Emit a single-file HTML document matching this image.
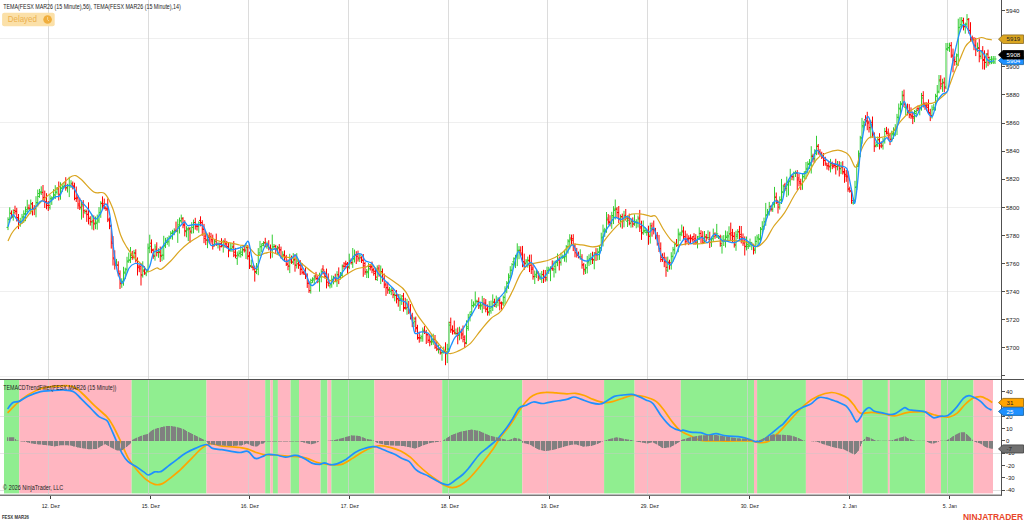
<!DOCTYPE html>
<html><head><meta charset="utf-8"><style>
html,body{margin:0;padding:0;background:#fff;width:1024px;height:522px;overflow:hidden}
svg{display:block}
text{font-family:"Liberation Sans",sans-serif}
</style></head><body>
<svg width="1024" height="522" viewBox="0 0 1024 522">
<rect x="0" y="0" width="1024" height="522" fill="#ffffff"/>
<rect x="4.0" y="379.8" width="15.3" height="113.6" fill="#90EE90"/>
<rect x="19.3" y="379.8" width="112.3" height="113.6" fill="#FFB6C1"/>
<rect x="131.6" y="379.8" width="74.9" height="113.6" fill="#90EE90"/>
<rect x="206.5" y="379.8" width="58.7" height="113.6" fill="#FFB6C1"/>
<rect x="265.2" y="379.8" width="5.1" height="113.6" fill="#90EE90"/>
<rect x="270.3" y="379.8" width="2.6" height="113.6" fill="#FFB6C1"/>
<rect x="272.9" y="379.8" width="5.0" height="113.6" fill="#90EE90"/>
<rect x="277.9" y="379.8" width="12.7" height="113.6" fill="#FFB6C1"/>
<rect x="290.6" y="379.8" width="8.4" height="113.6" fill="#90EE90"/>
<rect x="299.0" y="379.8" width="21.6" height="113.6" fill="#FFB6C1"/>
<rect x="320.6" y="379.8" width="6.9" height="113.6" fill="#90EE90"/>
<rect x="327.5" y="379.8" width="3.8" height="113.6" fill="#FFB6C1"/>
<rect x="331.3" y="379.8" width="43.1" height="113.6" fill="#90EE90"/>
<rect x="374.4" y="379.8" width="67.8" height="113.6" fill="#FFB6C1"/>
<rect x="442.2" y="379.8" width="80.1" height="113.6" fill="#90EE90"/>
<rect x="522.3" y="379.8" width="81.8" height="113.6" fill="#FFB6C1"/>
<rect x="604.1" y="379.8" width="30.5" height="113.6" fill="#90EE90"/>
<rect x="634.6" y="379.8" width="46.2" height="113.6" fill="#FFB6C1"/>
<rect x="680.8" y="379.8" width="73.2" height="113.6" fill="#90EE90"/>
<rect x="754.0" y="379.8" width="3.1" height="113.6" fill="#FFB6C1"/>
<rect x="757.1" y="379.8" width="48.8" height="113.6" fill="#90EE90"/>
<rect x="805.9" y="379.8" width="56.6" height="113.6" fill="#FFB6C1"/>
<rect x="862.5" y="379.8" width="25.4" height="113.6" fill="#90EE90"/>
<rect x="887.9" y="379.8" width="1.8" height="113.6" fill="#FFB6C1"/>
<rect x="889.7" y="379.8" width="35.5" height="113.6" fill="#90EE90"/>
<rect x="925.2" y="379.8" width="15.8" height="113.6" fill="#FFB6C1"/>
<rect x="941.0" y="379.8" width="32.5" height="113.6" fill="#90EE90"/>
<rect x="973.5" y="379.8" width="19.5" height="113.6" fill="#FFB6C1"/>
<line x1="0" y1="38.5" x2="1001" y2="38.5" stroke="#efefef" stroke-width="1"/>
<line x1="0" y1="122.5" x2="1001" y2="122.5" stroke="#efefef" stroke-width="1"/>
<line x1="0" y1="207.5" x2="1001" y2="207.5" stroke="#efefef" stroke-width="1"/>
<line x1="0" y1="291.5" x2="1001" y2="291.5" stroke="#efefef" stroke-width="1"/>
<line x1="0" y1="376.5" x2="1001" y2="376.5" stroke="#efefef" stroke-width="1"/>
<line x1="0" y1="416.5" x2="1001" y2="416.5" stroke="#c8c8c8" stroke-opacity="0.45" stroke-width="1"/>
<line x1="0" y1="453.5" x2="1001" y2="453.5" stroke="#c8c8c8" stroke-opacity="0.45" stroke-width="1"/>
<line x1="48.5" y1="0" x2="48.5" y2="494" stroke="#d0d0d0" stroke-opacity="0.75" stroke-width="1"/>
<line x1="148.5" y1="0" x2="148.5" y2="494" stroke="#d0d0d0" stroke-opacity="0.75" stroke-width="1"/>
<line x1="248.5" y1="0" x2="248.5" y2="494" stroke="#d0d0d0" stroke-opacity="0.75" stroke-width="1"/>
<line x1="348.5" y1="0" x2="348.5" y2="494" stroke="#d0d0d0" stroke-opacity="0.75" stroke-width="1"/>
<line x1="448.5" y1="0" x2="448.5" y2="494" stroke="#d0d0d0" stroke-opacity="0.75" stroke-width="1"/>
<line x1="547.5" y1="0" x2="547.5" y2="494" stroke="#d0d0d0" stroke-opacity="0.75" stroke-width="1"/>
<line x1="647.5" y1="0" x2="647.5" y2="494" stroke="#d0d0d0" stroke-opacity="0.75" stroke-width="1"/>
<line x1="747.5" y1="0" x2="747.5" y2="494" stroke="#d0d0d0" stroke-opacity="0.75" stroke-width="1"/>
<line x1="847.5" y1="0" x2="847.5" y2="494" stroke="#d0d0d0" stroke-opacity="0.75" stroke-width="1"/>
<line x1="947.5" y1="0" x2="947.5" y2="494" stroke="#d0d0d0" stroke-opacity="0.75" stroke-width="1"/>
<path d="M8.00,217.3V230.1M6.50,227.4h1.5M8.00,219.6h1.5M9.75,207.3V222.5M8.25,219.4h1.5M9.75,213.1h1.5M13.25,209.3V220.7M11.75,217.3h1.5M13.25,212.7h1.5M20.25,217.8V226.8M18.75,222.5h1.5M20.25,221.6h1.5M22.00,213.9V223.9M20.50,221.5h1.5M22.00,217.8h1.5M23.75,210.3V222.8M22.25,216.6h1.5M23.75,213.8h1.5M25.50,206.5V221.2M24.00,214.1h1.5M25.50,209.6h1.5M27.25,199.8V213.9M25.75,211.2h1.5M27.25,208.9h1.5M30.75,199.5V214.3M29.25,209.2h1.5M30.75,203.6h1.5M36.00,196.2V217.3M34.50,208.1h1.5M36.00,202.6h1.5M37.75,189.5V206.6M36.25,202.9h1.5M37.75,196.5h1.5M39.50,188.9V197.8M38.00,193.5h1.5M39.50,191.8h1.5M41.25,186.3V195.0M39.75,192.9h1.5M41.25,192.0h1.5M50.00,194.7V209.6M48.50,207.6h1.5M50.00,198.3h1.5M51.75,196.3V204.9M50.25,199.1h1.5M51.75,198.3h1.5M53.50,189.2V199.4M52.00,197.8h1.5M53.50,194.7h1.5M55.25,185.2V199.0M53.75,195.8h1.5M55.25,192.3h1.5M57.00,187.0V194.7M55.50,192.1h1.5M57.00,189.0h1.5M60.50,182.3V199.7M59.00,195.0h1.5M60.50,188.1h1.5M62.25,184.5V191.9M60.75,188.2h1.5M62.25,186.6h1.5M64.00,182.0V188.5M62.50,187.0h1.5M64.00,185.7h1.5M67.50,183.8V192.5M66.00,187.5h1.5M67.50,185.4h1.5M69.25,176.8V197.1M67.75,185.8h1.5M69.25,185.3h1.5M71.00,180.2V188.0M69.50,185.6h1.5M71.00,183.3h1.5M81.50,200.3V219.6M80.00,207.9h1.5M81.50,205.9h1.5M85.00,209.2V214.2M83.50,212.0h1.5M85.00,211.3h1.5M92.00,214.7V229.5M90.50,222.2h1.5M92.00,222.0h1.5M95.50,216.5V229.2M94.00,224.1h1.5M95.50,223.6h1.5M97.25,214.6V229.7M95.75,222.2h1.5M97.25,219.0h1.5M99.00,207.1V223.1M97.50,220.9h1.5M99.00,212.4h1.5M100.75,201.2V217.8M99.25,214.0h1.5M100.75,203.1h1.5M116.50,258.9V266.9M115.00,265.3h1.5M116.50,265.1h1.5M121.75,278.3V287.8M120.25,282.2h1.5M121.75,281.9h1.5M123.50,266.8V285.7M122.00,281.2h1.5M123.50,272.1h1.5M125.25,267.7V279.0M123.75,273.1h1.5M125.25,269.8h1.5M127.00,256.8V272.7M125.50,269.1h1.5M127.00,261.8h1.5M128.75,252.6V262.8M127.25,260.8h1.5M128.75,259.9h1.5M130.50,247.0V263.1M129.00,260.3h1.5M130.50,257.5h1.5M134.00,249.9V259.5M132.50,256.2h1.5M134.00,252.5h1.5M142.75,261.3V277.6M141.25,275.7h1.5M142.75,270.0h1.5M146.25,269.6V276.2M144.75,273.9h1.5M146.25,271.2h1.5M148.00,243.5V272.7M146.50,270.8h1.5M148.00,248.4h1.5M149.75,234.7V253.2M148.25,247.4h1.5M149.75,246.3h1.5M155.00,244.2V260.7M153.50,256.5h1.5M155.00,247.0h1.5M158.50,248.4V257.8M157.00,252.6h1.5M158.50,251.4h1.5M162.00,246.6V261.2M160.50,256.6h1.5M162.00,255.0h1.5M163.75,235.8V259.7M162.25,255.3h1.5M163.75,245.5h1.5M165.50,237.8V248.1M164.00,246.1h1.5M165.50,242.1h1.5M167.25,237.1V244.8M165.75,242.5h1.5M167.25,241.0h1.5M169.00,235.5V246.6M167.50,241.9h1.5M169.00,237.1h1.5M170.75,231.2V239.2M169.25,237.1h1.5M170.75,233.2h1.5M172.50,229.8V239.7M171.00,233.4h1.5M172.50,231.8h1.5M174.25,228.3V235.2M172.75,233.0h1.5M174.25,231.4h1.5M177.75,219.2V242.9M176.25,231.4h1.5M177.75,224.9h1.5M179.50,217.5V233.5M178.00,226.7h1.5M179.50,220.5h1.5M181.25,214.6V223.3M179.75,221.1h1.5M181.25,218.0h1.5M186.50,226.2V237.3M185.00,231.7h1.5M186.50,228.8h1.5M188.25,226.8V241.1M186.75,229.9h1.5M188.25,229.1h1.5M191.75,222.1V233.8M190.25,232.3h1.5M191.75,227.3h1.5M193.50,219.6V233.3M192.00,227.5h1.5M193.50,222.5h1.5M198.75,221.3V232.8M197.25,225.7h1.5M198.75,222.8h1.5M207.50,233.6V248.2M206.00,240.0h1.5M207.50,237.5h1.5M214.50,239.9V246.4M213.00,244.8h1.5M214.50,241.7h1.5M218.00,242.2V248.5M216.50,244.1h1.5M218.00,244.0h1.5M223.25,239.8V252.6M221.75,245.9h1.5M223.25,241.8h1.5M230.25,243.1V251.7M228.75,249.8h1.5M230.25,248.8h1.5M232.00,243.7V252.0M230.50,248.9h1.5M232.00,247.2h1.5M237.25,251.5V264.9M235.75,258.6h1.5M237.25,254.2h1.5M239.00,250.1V257.4M237.50,255.3h1.5M239.00,253.5h1.5M240.75,246.1V257.6M239.25,252.2h1.5M240.75,252.1h1.5M242.50,247.4V256.2M241.00,254.6h1.5M242.50,249.8h1.5M246.00,243.1V259.0M244.50,250.9h1.5M246.00,247.6h1.5M251.25,259.6V268.1M249.75,266.5h1.5M251.25,266.2h1.5M256.50,263.0V274.1M255.00,272.4h1.5M256.50,266.9h1.5M258.25,248.1V275.2M256.75,269.1h1.5M258.25,254.8h1.5M260.00,240.9V256.1M258.50,252.9h1.5M260.00,246.9h1.5M261.75,243.4V252.1M260.25,246.5h1.5M261.75,245.3h1.5M263.50,241.2V246.3M262.00,243.6h1.5M263.50,243.0h1.5M267.00,241.6V248.8M265.50,246.9h1.5M267.00,246.1h1.5M272.25,234.6V257.7M270.75,249.1h1.5M272.25,246.7h1.5M274.00,244.0V250.0M272.50,246.9h1.5M274.00,246.1h1.5M277.50,245.8V253.8M276.00,248.4h1.5M277.50,247.3h1.5M282.75,251.2V260.1M281.25,256.5h1.5M282.75,254.4h1.5M289.75,253.8V273.1M288.25,266.1h1.5M289.75,262.0h1.5M293.25,253.1V264.7M291.75,262.4h1.5M293.25,260.3h1.5M296.75,253.2V268.5M295.25,265.4h1.5M296.75,261.1h1.5M310.75,278.7V293.6M309.25,290.7h1.5M310.75,282.8h1.5M312.50,277.3V282.9M311.00,280.4h1.5M312.50,278.9h1.5M314.25,275.3V283.8M312.75,280.0h1.5M314.25,277.8h1.5M319.50,272.7V291.7M318.00,281.2h1.5M319.50,276.8h1.5M321.25,269.4V282.3M319.75,276.9h1.5M321.25,271.5h1.5M330.00,283.2V288.4M328.50,285.9h1.5M330.00,284.8h1.5M331.75,275.4V287.7M330.25,283.8h1.5M331.75,279.3h1.5M333.50,275.8V284.3M332.00,279.4h1.5M333.50,277.9h1.5M337.00,271.2V286.9M335.50,281.7h1.5M337.00,274.4h1.5M340.50,272.0V279.6M339.00,277.5h1.5M340.50,274.3h1.5M342.25,264.5V278.0M340.75,275.5h1.5M342.25,266.1h1.5M349.25,253.7V269.2M347.75,267.5h1.5M349.25,261.6h1.5M352.75,248.0V267.9M351.25,263.9h1.5M352.75,258.5h1.5M354.50,249.6V262.5M353.00,259.1h1.5M354.50,255.1h1.5M359.75,254.1V262.0M358.25,259.0h1.5M359.75,255.9h1.5M366.75,268.9V278.0M365.25,272.5h1.5M366.75,271.4h1.5M368.50,263.1V278.1M367.00,272.7h1.5M368.50,268.8h1.5M377.25,265.4V281.0M375.75,279.4h1.5M377.25,269.7h1.5M380.75,265.5V284.1M379.25,275.5h1.5M380.75,271.6h1.5M389.50,286.9V293.9M388.00,290.4h1.5M389.50,290.0h1.5M391.25,287.5V295.2M389.75,291.7h1.5M391.25,290.4h1.5M394.75,292.3V301.3M393.25,295.3h1.5M394.75,295.2h1.5M400.00,294.0V311.0M398.50,300.7h1.5M400.00,298.8h1.5M401.75,295.1V304.9M400.25,300.3h1.5M401.75,299.1h1.5M407.00,298.9V314.7M405.50,308.8h1.5M407.00,307.0h1.5M414.00,316.8V327.1M412.50,322.8h1.5M414.00,321.7h1.5M421.00,334.6V341.7M419.50,337.6h1.5M421.00,336.7h1.5M422.75,327.5V341.7M421.25,338.1h1.5M422.75,330.1h1.5M431.50,335.3V345.2M430.00,341.3h1.5M431.50,341.2h1.5M433.25,333.7V344.8M431.75,342.0h1.5M433.25,339.1h1.5M438.50,344.6V353.5M437.00,349.1h1.5M438.50,348.9h1.5M442.00,350.0V360.7M440.50,352.6h1.5M442.00,352.1h1.5M443.75,346.6V353.7M442.25,352.1h1.5M443.75,351.8h1.5M447.25,343.8V363.1M445.75,351.6h1.5M447.25,349.0h1.5M449.00,321.6V351.8M447.50,349.2h1.5M449.00,325.1h1.5M456.00,328.6V335.2M454.50,333.6h1.5M456.00,333.5h1.5M459.50,326.7V340.3M458.00,332.9h1.5M459.50,331.4h1.5M466.50,320.3V344.3M465.00,342.5h1.5M466.50,326.8h1.5M468.25,313.9V330.7M466.75,328.4h1.5M468.25,317.7h1.5M470.00,311.7V321.4M468.50,317.3h1.5M470.00,314.5h1.5M471.75,299.3V316.2M470.25,311.8h1.5M471.75,305.6h1.5M473.50,301.4V307.6M472.00,305.7h1.5M473.50,305.0h1.5M475.25,291.5V306.3M473.75,304.1h1.5M475.25,301.0h1.5M477.00,299.7V303.8M475.50,301.7h1.5M477.00,301.7h1.5M480.50,302.2V309.8M479.00,306.9h1.5M480.50,305.9h1.5M482.25,295.9V313.1M480.75,305.0h1.5M482.25,303.3h1.5M489.25,301.1V315.6M487.75,311.7h1.5M489.25,308.3h1.5M491.00,300.6V313.7M489.50,310.9h1.5M491.00,306.6h1.5M492.75,294.4V311.0M491.25,307.1h1.5M492.75,302.1h1.5M496.25,295.6V307.8M494.75,306.1h1.5M496.25,302.5h1.5M498.00,297.2V306.3M496.50,301.8h1.5M498.00,299.8h1.5M503.25,295.5V305.9M501.75,302.6h1.5M503.25,297.2h1.5M505.00,286.3V304.5M503.50,297.6h1.5M505.00,291.0h1.5M506.75,281.1V293.2M505.25,288.8h1.5M506.75,283.4h1.5M508.50,273.4V288.9M507.00,282.9h1.5M508.50,276.0h1.5M510.25,266.2V279.8M508.75,277.7h1.5M510.25,270.3h1.5M512.00,263.0V274.5M510.50,270.2h1.5M512.00,264.6h1.5M513.75,257.4V266.6M512.25,261.8h1.5M513.75,259.0h1.5M515.50,254.8V268.1M514.00,258.3h1.5M515.50,256.8h1.5M517.25,243.3V266.1M515.75,255.5h1.5M517.25,250.2h1.5M519.00,246.1V259.2M517.50,250.6h1.5M519.00,250.0h1.5M526.00,259.2V265.2M524.50,263.5h1.5M526.00,261.8h1.5M527.75,256.6V267.6M526.25,260.2h1.5M527.75,260.1h1.5M534.75,270.5V284.0M533.25,276.8h1.5M534.75,276.0h1.5M536.50,269.0V278.1M535.00,274.3h1.5M536.50,272.6h1.5M540.00,272.8V280.0M538.50,278.2h1.5M540.00,277.2h1.5M541.75,271.0V283.0M540.25,279.0h1.5M541.75,274.7h1.5M547.00,266.7V281.3M545.50,279.2h1.5M547.00,270.8h1.5M548.75,266.8V274.0M547.25,270.4h1.5M548.75,269.3h1.5M550.50,266.3V281.2M549.00,269.3h1.5M550.50,268.6h1.5M554.00,260.7V277.5M552.50,270.1h1.5M554.00,266.3h1.5M555.75,260.6V273.3M554.25,269.2h1.5M555.75,262.6h1.5M557.50,253.5V266.2M556.00,261.3h1.5M557.50,259.2h1.5M561.00,252.7V265.6M559.50,261.9h1.5M561.00,257.3h1.5M562.75,254.5V259.1M561.25,257.0h1.5M562.75,256.7h1.5M564.50,249.8V261.7M563.00,257.6h1.5M564.50,255.0h1.5M566.25,245.1V262.4M564.75,256.7h1.5M566.25,247.0h1.5M568.00,239.2V253.6M566.50,246.6h1.5M568.00,240.9h1.5M569.75,234.2V249.3M568.25,241.7h1.5M569.75,239.8h1.5M580.25,249.3V259.7M578.75,257.2h1.5M580.25,256.9h1.5M585.50,264.2V274.0M584.00,270.9h1.5M585.50,267.7h1.5M587.25,255.9V273.4M585.75,267.9h1.5M587.25,262.8h1.5M589.00,254.3V266.1M587.50,261.5h1.5M589.00,258.6h1.5M590.75,252.9V264.9M589.25,259.9h1.5M590.75,259.6h1.5M594.25,252.0V269.3M592.75,260.1h1.5M594.25,254.9h1.5M597.75,248.2V260.3M596.25,253.9h1.5M597.75,251.8h1.5M599.50,245.5V259.9M598.00,252.5h1.5M599.50,248.3h1.5M601.25,232.7V251.0M599.75,247.6h1.5M601.25,237.9h1.5M603.00,224.6V246.4M601.50,237.1h1.5M603.00,230.1h1.5M604.75,227.8V236.9M603.25,231.7h1.5M604.75,230.0h1.5M606.50,212.0V232.8M605.00,230.2h1.5M606.50,218.1h1.5M611.75,211.8V228.8M610.25,223.2h1.5M611.75,215.5h1.5M613.50,206.2V224.1M612.00,217.0h1.5M613.50,209.1h1.5M615.25,199.5V219.5M613.75,210.4h1.5M615.25,208.9h1.5M620.50,214.5V227.4M619.00,219.7h1.5M620.50,217.0h1.5M624.00,210.8V227.3M622.50,221.0h1.5M624.00,216.8h1.5M627.50,215.5V227.0M626.00,221.2h1.5M627.50,220.2h1.5M631.00,218.4V227.7M629.50,223.1h1.5M631.00,221.7h1.5M634.50,214.3V225.8M633.00,224.2h1.5M634.50,221.8h1.5M636.25,219.3V228.3M634.75,222.7h1.5M636.25,222.2h1.5M638.00,215.6V227.5M636.50,223.0h1.5M638.00,219.1h1.5M643.25,220.5V234.9M641.75,232.7h1.5M643.25,231.3h1.5M645.00,227.1V233.3M643.50,230.6h1.5M645.00,230.3h1.5M646.75,229.6V235.7M645.25,232.4h1.5M646.75,232.4h1.5M650.25,222.7V243.6M648.75,235.1h1.5M650.25,228.2h1.5M667.75,256.6V272.0M666.25,270.2h1.5M667.75,262.4h1.5M671.25,252.2V269.6M669.75,264.9h1.5M671.25,256.6h1.5M673.00,246.9V261.7M671.50,256.2h1.5M673.00,249.4h1.5M674.75,241.7V254.4M673.25,250.1h1.5M674.75,244.6h1.5M678.25,228.6V252.2M676.75,245.1h1.5M678.25,233.9h1.5M680.00,231.7V241.1M678.50,234.8h1.5M680.00,234.7h1.5M681.75,224.6V236.2M680.25,233.1h1.5M681.75,232.0h1.5M697.50,235.9V248.4M696.00,243.2h1.5M697.50,239.1h1.5M699.25,227.3V240.1M697.75,236.9h1.5M699.25,233.4h1.5M704.50,231.0V242.8M703.00,240.8h1.5M704.50,236.8h1.5M708.00,230.3V239.5M706.50,237.8h1.5M708.00,237.6h1.5M711.50,236.9V246.9M710.00,242.6h1.5M711.50,238.9h1.5M713.25,228.6V241.7M711.75,238.2h1.5M713.25,236.3h1.5M716.75,223.9V238.0M715.25,234.3h1.5M716.75,233.9h1.5M718.50,235.1V239.1M717.00,237.0h1.5M718.50,236.7h1.5M722.00,235.5V253.6M720.50,245.6h1.5M722.00,240.8h1.5M723.75,235.1V246.0M722.25,240.8h1.5M723.75,239.9h1.5M725.50,230.5V247.5M724.00,240.6h1.5M725.50,236.2h1.5M727.25,231.3V241.9M725.75,237.5h1.5M727.25,235.6h1.5M729.00,226.3V240.7M727.50,236.9h1.5M729.00,234.1h1.5M736.00,230.7V250.8M734.50,245.3h1.5M736.00,236.3h1.5M737.75,229.2V239.2M736.25,234.8h1.5M737.75,231.8h1.5M746.50,236.5V250.4M745.00,246.7h1.5M746.50,244.4h1.5M748.25,242.2V249.0M746.75,246.3h1.5M748.25,246.3h1.5M750.00,238.6V247.2M748.50,245.1h1.5M750.00,242.6h1.5M751.75,241.9V250.1M750.25,244.6h1.5M751.75,244.5h1.5M755.25,236.3V253.6M753.75,249.0h1.5M755.25,241.3h1.5M757.00,234.7V245.3M755.50,241.5h1.5M757.00,237.2h1.5M758.75,234.0V244.1M757.25,238.9h1.5M758.75,238.7h1.5M760.50,227.0V242.0M759.00,239.5h1.5M760.50,229.2h1.5M762.25,221.2V234.0M760.75,229.1h1.5M762.25,226.9h1.5M764.00,217.6V229.8M762.50,226.3h1.5M764.00,221.9h1.5M765.75,202.9V225.8M764.25,221.9h1.5M765.75,215.7h1.5M767.50,208.9V217.4M766.00,214.7h1.5M767.50,213.1h1.5M769.25,201.9V215.5M767.75,211.8h1.5M769.25,209.5h1.5M772.75,202.1V211.9M771.25,209.8h1.5M772.75,204.7h1.5M774.50,186.9V207.7M773.00,203.8h1.5M774.50,197.3h1.5M779.75,196.4V209.6M778.25,204.8h1.5M779.75,199.8h1.5M781.50,178.9V204.0M780.00,200.0h1.5M781.50,191.9h1.5M783.25,184.8V197.3M781.75,192.3h1.5M783.25,186.4h1.5M786.75,176.6V197.1M785.25,186.8h1.5M786.75,184.7h1.5M788.50,179.9V195.5M787.00,185.0h1.5M788.50,181.7h1.5M790.25,168.8V185.8M788.75,180.8h1.5M790.25,175.7h1.5M793.75,171.6V180.5M792.25,176.9h1.5M793.75,173.2h1.5M795.50,170.6V177.0M794.00,173.1h1.5M795.50,172.6h1.5M802.50,173.4V189.8M801.00,184.5h1.5M802.50,176.9h1.5M804.25,171.4V179.2M802.75,176.4h1.5M804.25,173.1h1.5M806.00,162.0V179.2M804.50,171.7h1.5M806.00,168.3h1.5M807.75,161.3V173.5M806.25,169.5h1.5M807.75,164.5h1.5M809.50,159.1V168.9M808.00,163.6h1.5M809.50,162.8h1.5M811.25,146.2V173.5M809.75,165.1h1.5M811.25,155.6h1.5M814.75,149.2V162.9M813.25,158.9h1.5M814.75,150.8h1.5M816.50,135.8V155.2M815.00,153.6h1.5M816.50,145.9h1.5M830.50,158.9V172.4M829.00,167.0h1.5M830.50,165.0h1.5M837.50,161.0V170.4M836.00,166.6h1.5M837.50,166.1h1.5M841.00,161.9V174.1M839.50,168.9h1.5M841.00,166.9h1.5M853.25,197.7V204.7M851.75,202.9h1.5M853.25,200.9h1.5M855.00,180.8V202.2M853.50,200.1h1.5M855.00,187.5h1.5M856.75,164.4V190.0M855.25,186.8h1.5M856.75,166.4h1.5M858.50,150.4V167.1M857.00,165.0h1.5M858.50,153.8h1.5M860.25,135.8V157.2M858.75,153.8h1.5M860.25,137.7h1.5M862.00,117.9V143.7M860.50,138.1h1.5M862.00,125.7h1.5M863.75,120.7V130.7M862.25,126.9h1.5M863.75,122.3h1.5M870.75,120.1V138.3M869.25,128.9h1.5M870.75,124.4h1.5M876.00,141.7V147.4M874.50,145.6h1.5M876.00,144.6h1.5M877.75,136.5V147.0M876.25,145.2h1.5M877.75,140.0h1.5M883.00,138.0V149.6M881.50,145.3h1.5M883.00,140.8h1.5M884.75,127.9V143.6M883.25,140.1h1.5M884.75,131.5h1.5M891.75,130.7V142.1M890.25,139.2h1.5M891.75,133.6h1.5M893.50,127.3V139.0M892.00,134.8h1.5M893.50,129.5h1.5M895.25,124.2V136.2M893.75,130.3h1.5M895.25,128.5h1.5M897.00,113.9V135.0M895.50,127.8h1.5M897.00,117.2h1.5M898.75,103.5V121.9M897.25,117.6h1.5M898.75,108.2h1.5M900.50,101.1V115.0M899.00,109.0h1.5M900.50,103.4h1.5M902.25,90.8V106.3M900.75,104.5h1.5M902.25,95.9h1.5M905.75,104.2V115.3M904.25,107.6h1.5M905.75,107.5h1.5M914.50,110.0V122.1M913.00,116.5h1.5M914.50,113.4h1.5M916.25,108.8V117.3M914.75,111.5h1.5M916.25,110.5h1.5M919.75,105.4V115.3M918.25,108.8h1.5M919.75,107.4h1.5M921.50,92.9V110.7M920.00,107.4h1.5M921.50,98.0h1.5M932.00,105.3V118.5M930.50,115.4h1.5M932.00,109.8h1.5M933.75,103.9V110.0M932.25,107.9h1.5M933.75,107.8h1.5M935.50,93.8V110.6M934.00,109.0h1.5M935.50,96.5h1.5M937.25,85.0V100.6M935.75,95.9h1.5M937.25,92.3h1.5M939.00,75.0V93.3M937.50,91.3h1.5M939.00,81.0h1.5M942.50,78.7V91.9M941.00,86.2h1.5M942.50,82.2h1.5M946.00,43.0V89.3M944.50,86.8h1.5M946.00,48.8h1.5M947.75,42.9V51.0M946.25,49.4h1.5M947.75,47.9h1.5M949.50,42.7V51.9M948.00,47.5h1.5M949.50,45.8h1.5M956.50,53.5V65.2M955.00,61.5h1.5M956.50,56.0h1.5M958.25,18.7V65.9M956.75,54.8h1.5M958.25,27.6h1.5M960.00,17.2V32.3M958.50,27.3h1.5M960.00,24.4h1.5M961.75,17.1V27.7M960.25,26.1h1.5M961.75,21.8h1.5M965.25,22.6V33.7M963.75,26.7h1.5M965.25,24.7h1.5M967.00,14.1V27.1M965.50,23.9h1.5M967.00,19.1h1.5M977.50,42.5V51.9M976.00,49.2h1.5M977.50,47.5h1.5M981.00,50.3V59.3M979.50,56.6h1.5M981.00,51.8h1.5M986.25,53.1V67.7M984.75,62.5h1.5M986.25,54.7h1.5M989.75,56.6V64.6M988.25,62.6h1.5M989.75,59.6h1.5M991.50,56.1V64.1M990.00,62.1h1.5M991.50,59.1h1.5M993.25,56.0V64.0M991.75,62.0h1.5M993.25,59.0h1.5M995.00,56.0V64.0M993.50,62.0h1.5M995.00,59.0h1.5" stroke="#32CD32" stroke-width="1" fill="none"/>
<path d="M11.50,210.4V218.5M10.00,213.4h1.5M11.50,216.3h1.5M15.00,205.7V214.6M13.50,210.6h1.5M15.00,211.3h1.5M16.75,207.8V221.5M15.25,211.3h1.5M16.75,217.5h1.5M18.50,214.0V229.1M17.00,218.0h1.5M18.50,221.0h1.5M29.00,204.5V209.9M27.50,207.9h1.5M29.00,208.2h1.5M32.50,202.0V215.5M31.00,204.0h1.5M32.50,209.0h1.5M34.25,205.1V215.1M32.75,208.3h1.5M34.25,208.8h1.5M43.00,185.0V201.2M41.50,192.6h1.5M43.00,197.4h1.5M44.75,190.6V208.0M43.25,198.0h1.5M44.75,201.6h1.5M46.50,193.2V209.3M45.00,202.2h1.5M46.50,205.4h1.5M48.25,201.0V211.0M46.75,203.2h1.5M48.25,205.6h1.5M58.75,181.5V200.5M57.25,187.8h1.5M58.75,194.2h1.5M65.75,177.2V190.7M64.25,186.3h1.5M65.75,188.0h1.5M72.75,181.5V189.4M71.25,184.0h1.5M72.75,185.9h1.5M74.50,182.7V200.3M73.00,186.3h1.5M74.50,198.4h1.5M76.25,186.5V202.0M74.75,198.3h1.5M76.25,198.7h1.5M78.00,195.5V209.1M76.50,197.3h1.5M78.00,204.0h1.5M79.75,197.8V210.0M78.25,205.8h1.5M79.75,207.2h1.5M83.25,200.1V217.8M81.75,204.2h1.5M83.25,210.6h1.5M86.75,209.6V221.9M85.25,211.5h1.5M86.75,214.6h1.5M88.50,202.3V224.4M87.00,214.2h1.5M88.50,218.5h1.5M90.25,216.2V225.6M88.75,218.2h1.5M90.25,221.5h1.5M93.75,215.4V230.3M92.25,220.8h1.5M93.75,223.2h1.5M102.50,196.4V209.2M101.00,203.6h1.5M102.50,203.9h1.5M104.25,198.6V209.3M102.75,205.6h1.5M104.25,207.1h1.5M106.00,206.4V211.0M104.50,208.3h1.5M106.00,209.0h1.5M107.75,198.5V222.1M106.25,208.7h1.5M107.75,219.1h1.5M109.50,217.4V229.2M108.00,220.1h1.5M109.50,225.4h1.5M111.25,224.6V248.6M109.75,226.4h1.5M111.25,242.0h1.5M113.00,236.1V265.5M111.50,243.3h1.5M113.00,257.9h1.5M114.75,250.3V269.6M113.25,258.9h1.5M114.75,264.0h1.5M118.25,261.3V276.3M116.75,265.1h1.5M118.25,273.9h1.5M120.00,270.4V289.0M118.50,273.9h1.5M120.00,283.7h1.5M132.25,250.9V259.8M130.75,255.2h1.5M132.25,257.3h1.5M135.75,249.3V262.5M134.25,253.4h1.5M135.75,259.8h1.5M137.50,257.4V275.5M136.00,260.6h1.5M137.50,266.1h1.5M139.25,265.0V272.2M137.75,267.7h1.5M139.25,268.9h1.5M141.00,263.5V285.5M139.50,266.8h1.5M141.00,274.8h1.5M144.50,266.2V274.8M143.00,271.1h1.5M144.50,272.9h1.5M151.50,239.4V253.2M150.00,243.2h1.5M151.50,249.8h1.5M153.25,248.6V258.8M151.75,250.3h1.5M153.25,255.3h1.5M156.75,242.3V256.4M155.25,249.1h1.5M156.75,252.4h1.5M160.25,246.6V262.0M158.75,252.6h1.5M160.25,255.4h1.5M176.00,221.6V232.2M174.50,230.3h1.5M176.00,230.5h1.5M183.00,217.2V228.2M181.50,218.8h1.5M183.00,224.4h1.5M184.75,220.2V236.4M183.25,225.6h1.5M184.75,230.8h1.5M190.00,227.0V242.6M188.50,228.8h1.5M190.00,231.2h1.5M195.25,217.8V229.6M193.75,222.5h1.5M195.25,226.1h1.5M197.00,223.7V230.6M195.50,226.2h1.5M197.00,226.5h1.5M200.50,216.3V226.3M199.00,220.4h1.5M200.50,222.7h1.5M202.25,220.2V235.8M200.75,222.6h1.5M202.25,228.9h1.5M204.00,223.9V243.2M202.50,229.5h1.5M204.00,238.4h1.5M205.75,231.7V245.1M204.25,236.2h1.5M205.75,240.1h1.5M209.25,232.3V243.3M207.75,236.2h1.5M209.25,236.5h1.5M211.00,232.9V243.8M209.50,236.8h1.5M211.00,239.6h1.5M212.75,234.6V249.6M211.25,241.0h1.5M212.75,246.1h1.5M216.25,233.6V246.0M214.75,239.8h1.5M216.25,244.4h1.5M219.75,242.6V250.7M218.25,244.4h1.5M219.75,246.7h1.5M221.50,238.2V247.3M220.00,243.4h1.5M221.50,245.7h1.5M225.00,238.2V247.8M223.50,241.4h1.5M225.00,244.0h1.5M226.75,240.9V248.2M225.25,243.0h1.5M226.75,246.5h1.5M228.50,242.6V257.3M227.00,246.9h1.5M228.50,250.7h1.5M233.75,241.1V257.1M232.25,246.8h1.5M233.75,255.1h1.5M235.50,247.9V258.2M234.00,252.2h1.5M235.50,255.8h1.5M244.25,245.3V252.5M242.75,249.8h1.5M244.25,250.0h1.5M247.75,245.1V259.6M246.25,247.6h1.5M247.75,256.5h1.5M249.50,251.6V269.0M248.00,255.7h1.5M249.50,265.7h1.5M253.00,265.5V270.5M251.50,267.2h1.5M253.00,267.8h1.5M254.75,265.7V281.6M253.25,269.2h1.5M254.75,271.5h1.5M265.25,237.8V247.1M263.75,242.7h1.5M265.25,245.0h1.5M268.75,240.2V250.4M267.25,245.2h1.5M268.75,247.5h1.5M270.50,244.5V258.6M269.00,248.1h1.5M270.50,249.1h1.5M275.75,244.8V253.9M274.25,246.5h1.5M275.75,249.5h1.5M279.25,244.1V253.6M277.75,248.1h1.5M279.25,249.6h1.5M281.00,246.6V258.5M279.50,250.0h1.5M281.00,256.6h1.5M284.50,250.4V261.6M283.00,255.3h1.5M284.50,257.6h1.5M286.25,254.9V266.0M284.75,257.0h1.5M286.25,263.9h1.5M288.00,259.4V270.3M286.50,264.3h1.5M288.00,266.1h1.5M291.50,255.6V263.9M290.00,259.9h1.5M291.50,261.9h1.5M295.00,254.2V271.7M293.50,259.6h1.5M295.00,265.0h1.5M298.50,260.3V268.8M297.00,263.8h1.5M298.50,264.8h1.5M300.25,260.1V275.1M298.75,265.4h1.5M300.25,269.1h1.5M302.00,263.0V274.5M300.50,269.4h1.5M302.00,272.2h1.5M303.75,270.8V274.8M302.25,272.8h1.5M303.75,273.0h1.5M305.50,267.4V279.0M304.00,274.2h1.5M305.50,276.1h1.5M307.25,273.4V287.9M305.75,275.2h1.5M307.25,283.5h1.5M309.00,281.3V292.9M307.50,283.0h1.5M309.00,290.6h1.5M316.00,271.9V280.2M314.50,276.0h1.5M316.00,278.6h1.5M317.75,275.7V283.2M316.25,278.4h1.5M317.75,279.2h1.5M323.00,265.2V274.6M321.50,269.0h1.5M323.00,270.0h1.5M324.75,270.9V278.4M323.25,273.2h1.5M324.75,276.0h1.5M326.50,268.6V288.4M325.00,276.4h1.5M326.50,282.2h1.5M328.25,273.4V286.3M326.75,278.0h1.5M328.25,283.4h1.5M335.25,273.7V282.1M333.75,277.8h1.5M335.25,280.0h1.5M338.75,267.4V284.1M337.25,274.9h1.5M338.75,276.5h1.5M344.00,262.1V269.3M342.50,266.2h1.5M344.00,266.4h1.5M345.75,260.7V268.4M344.25,263.8h1.5M345.75,264.4h1.5M347.50,262.0V274.2M346.00,263.9h1.5M347.50,266.7h1.5M351.00,258.5V264.3M349.50,260.8h1.5M351.00,262.5h1.5M356.25,251.2V264.0M354.75,254.7h1.5M356.25,256.6h1.5M358.00,250.6V261.6M356.50,254.7h1.5M358.00,258.0h1.5M361.50,256.3V263.0M360.00,257.8h1.5M361.50,260.1h1.5M363.25,254.0V276.8M361.75,260.4h1.5M363.25,265.9h1.5M365.00,261.8V274.8M363.50,263.5h1.5M365.00,271.7h1.5M370.25,263.9V270.5M368.75,266.4h1.5M370.25,267.3h1.5M372.00,261.6V273.2M370.50,266.5h1.5M372.00,270.2h1.5M373.75,267.8V275.7M372.25,269.4h1.5M373.75,271.3h1.5M375.50,268.9V280.2M374.00,273.4h1.5M375.50,277.1h1.5M379.00,264.8V276.7M377.50,268.1h1.5M379.00,275.1h1.5M382.50,268.5V281.8M381.00,271.8h1.5M382.50,278.6h1.5M384.25,273.5V288.1M382.75,278.3h1.5M384.25,285.1h1.5M386.00,282.2V295.9M384.50,284.1h1.5M386.00,287.8h1.5M387.75,281.8V293.8M386.25,287.6h1.5M387.75,289.3h1.5M393.00,288.0V298.2M391.50,290.5h1.5M393.00,294.5h1.5M396.50,290.1V303.4M395.00,295.4h1.5M396.50,299.0h1.5M398.25,294.1V306.7M396.75,298.6h1.5M398.25,300.2h1.5M403.50,292.9V311.7M402.00,296.0h1.5M403.50,308.3h1.5M405.25,297.8V309.6M403.75,307.5h1.5M405.25,307.8h1.5M408.75,300.9V314.1M407.25,307.2h1.5M408.75,312.2h1.5M410.50,304.1V319.5M409.00,310.1h1.5M410.50,315.2h1.5M412.25,312.8V327.1M410.75,316.2h1.5M412.25,323.1h1.5M415.75,316.6V332.1M414.25,318.8h1.5M415.75,328.7h1.5M417.50,324.8V339.7M416.00,327.5h1.5M417.50,338.1h1.5M419.25,331.7V342.7M417.75,337.5h1.5M419.25,338.2h1.5M424.50,326.1V334.0M423.00,331.3h1.5M424.50,332.1h1.5M426.25,329.9V344.0M424.75,332.7h1.5M426.25,334.5h1.5M428.00,333.3V343.0M426.50,334.9h1.5M428.00,340.5h1.5M429.75,334.6V346.3M428.25,339.9h1.5M429.75,342.0h1.5M435.00,335.0V348.9M433.50,339.3h1.5M435.00,347.2h1.5M436.75,341.3V351.1M435.25,345.1h1.5M436.75,349.0h1.5M440.25,347.0V354.6M438.75,349.6h1.5M440.25,353.0h1.5M445.50,342.3V365.2M444.00,351.6h1.5M445.50,353.7h1.5M450.75,317.6V332.9M449.25,322.4h1.5M450.75,330.0h1.5M452.50,325.4V334.6M451.00,329.3h1.5M452.50,331.3h1.5M454.25,320.6V334.3M452.75,330.7h1.5M454.25,332.7h1.5M457.75,327.4V344.3M456.25,333.6h1.5M457.75,335.2h1.5M461.25,328.6V339.2M459.75,332.4h1.5M461.25,335.0h1.5M463.00,325.5V342.3M461.50,333.9h1.5M463.00,337.1h1.5M464.75,335.3V347.7M463.25,339.4h1.5M464.75,343.4h1.5M478.75,297.4V309.0M477.25,301.7h1.5M478.75,305.3h1.5M484.00,298.0V309.2M482.50,304.0h1.5M484.00,304.6h1.5M485.75,299.1V312.3M484.25,303.1h1.5M485.75,309.1h1.5M487.50,304.5V315.6M486.00,309.2h1.5M487.50,312.7h1.5M494.50,298.7V306.8M493.00,302.2h1.5M494.50,304.5h1.5M499.75,297.9V310.4M498.25,300.6h1.5M499.75,303.0h1.5M501.50,301.5V309.6M500.00,303.1h1.5M501.50,303.9h1.5M520.75,246.3V256.0M519.25,250.7h1.5M520.75,253.1h1.5M522.50,245.9V267.2M521.00,254.8h1.5M522.50,261.7h1.5M524.25,253.6V269.9M522.75,262.0h1.5M524.25,263.0h1.5M529.50,254.7V272.1M528.00,260.7h1.5M529.50,265.3h1.5M531.25,254.5V274.0M529.75,263.0h1.5M531.25,269.4h1.5M533.00,264.4V279.7M531.50,268.0h1.5M533.00,276.6h1.5M538.25,271.3V281.1M536.75,273.0h1.5M538.25,277.0h1.5M543.50,269.8V283.0M542.00,274.4h1.5M543.50,277.3h1.5M545.25,270.0V281.7M543.75,277.5h1.5M545.25,277.7h1.5M552.25,260.4V270.7M550.75,268.6h1.5M552.25,268.8h1.5M559.25,256.5V270.5M557.75,260.2h1.5M559.25,262.7h1.5M571.50,234.6V245.3M570.00,238.1h1.5M571.50,240.2h1.5M573.25,234.2V251.1M571.75,238.7h1.5M573.25,246.6h1.5M575.00,243.4V257.3M573.50,246.0h1.5M575.00,252.8h1.5M576.75,247.9V257.6M575.25,250.6h1.5M576.75,254.3h1.5M578.50,251.6V258.4M577.00,255.4h1.5M578.50,256.6h1.5M582.00,254.2V268.7M580.50,258.7h1.5M582.00,265.0h1.5M583.75,262.9V274.8M582.25,264.8h1.5M583.75,269.3h1.5M592.50,251.7V264.0M591.00,258.9h1.5M592.50,259.7h1.5M596.00,248.1V261.0M594.50,253.1h1.5M596.00,254.9h1.5M608.25,214.1V224.8M606.75,219.9h1.5M608.25,221.6h1.5M610.00,215.2V226.4M608.50,222.5h1.5M610.00,223.3h1.5M617.00,207.1V217.8M615.50,209.2h1.5M617.00,212.5h1.5M618.75,206.0V223.2M617.25,212.6h1.5M618.75,218.9h1.5M622.25,213.6V228.7M620.75,216.5h1.5M622.25,220.5h1.5M625.75,209.0V220.6M624.25,215.3h1.5M625.75,218.1h1.5M629.25,213.6V225.4M627.75,218.2h1.5M629.25,223.3h1.5M632.75,217.4V227.4M631.25,220.9h1.5M632.75,223.9h1.5M639.75,209.9V232.0M638.25,218.0h1.5M639.75,228.0h1.5M641.50,220.7V239.9M640.00,226.8h1.5M641.50,232.9h1.5M648.50,225.7V244.8M647.00,231.1h1.5M648.50,236.4h1.5M652.00,222.6V236.7M650.50,225.9h1.5M652.00,229.6h1.5M653.75,220.5V234.4M652.25,229.3h1.5M653.75,230.0h1.5M655.50,227.9V239.3M654.00,229.6h1.5M655.50,235.7h1.5M657.25,232.1V245.6M655.75,235.7h1.5M657.25,243.7h1.5M659.00,234.9V252.0M657.50,243.8h1.5M659.00,248.6h1.5M660.75,242.4V262.1M659.25,248.7h1.5M660.75,259.6h1.5M662.50,253.3V261.9M661.00,257.6h1.5M662.50,257.6h1.5M664.25,252.5V267.2M662.75,257.5h1.5M664.25,261.6h1.5M666.00,256.8V276.8M664.50,261.9h1.5M666.00,267.3h1.5M669.50,259.7V269.6M668.00,262.2h1.5M669.50,262.9h1.5M676.50,239.0V246.8M675.00,243.6h1.5M676.50,245.3h1.5M683.50,226.5V239.2M682.00,231.0h1.5M683.50,236.7h1.5M685.25,230.6V245.3M683.75,236.7h1.5M685.25,241.3h1.5M687.00,233.6V243.9M685.50,239.5h1.5M687.00,239.6h1.5M688.75,235.3V245.1M687.25,238.4h1.5M688.75,238.7h1.5M690.50,234.4V243.9M689.00,238.0h1.5M690.50,238.7h1.5M692.25,236.2V241.8M690.75,238.2h1.5M692.25,239.4h1.5M694.00,233.2V244.8M692.50,236.7h1.5M694.00,240.3h1.5M695.75,234.2V244.6M694.25,238.4h1.5M695.75,242.0h1.5M701.00,230.2V243.2M699.50,233.5h1.5M701.00,237.1h1.5M702.75,231.2V244.1M701.25,236.4h1.5M702.75,242.3h1.5M706.25,234.0V241.2M704.75,237.1h1.5M706.25,237.6h1.5M709.75,231.7V248.0M708.25,239.8h1.5M709.75,242.4h1.5M715.00,232.3V238.8M713.50,234.0h1.5M715.00,235.7h1.5M720.25,234.7V246.7M718.75,236.9h1.5M720.25,243.8h1.5M730.75,222.6V240.4M729.25,233.7h1.5M730.75,235.1h1.5M732.50,228.9V242.5M731.00,232.9h1.5M732.50,236.5h1.5M734.25,232.1V247.6M732.75,236.2h1.5M734.25,244.2h1.5M739.50,225.9V240.6M738.00,231.8h1.5M739.50,236.7h1.5M741.25,226.0V243.4M739.75,234.4h1.5M741.25,240.0h1.5M743.00,233.5V245.8M741.50,237.8h1.5M743.00,243.0h1.5M744.75,236.4V255.5M743.25,241.3h1.5M744.75,246.3h1.5M753.50,243.8V254.5M752.00,245.6h1.5M753.50,250.2h1.5M771.00,205.2V211.6M769.50,206.7h1.5M771.00,209.0h1.5M776.25,192.5V204.0M774.75,197.1h1.5M776.25,200.3h1.5M778.00,200.6V213.5M776.50,202.4h1.5M778.00,207.1h1.5M785.00,182.8V191.1M783.50,184.9h1.5M785.00,188.6h1.5M792.00,174.8V180.2M790.50,176.4h1.5M792.00,176.8h1.5M797.25,170.1V190.1M795.75,173.3h1.5M797.25,179.9h1.5M799.00,173.9V186.3M797.50,178.0h1.5M799.00,181.6h1.5M800.75,178.7V190.1M799.25,183.1h1.5M800.75,184.1h1.5M813.00,153.7V162.5M811.50,156.5h1.5M813.00,158.7h1.5M818.25,144.0V154.7M816.75,146.5h1.5M818.25,152.4h1.5M820.00,149.2V155.9M818.50,151.4h1.5M820.00,154.3h1.5M821.75,151.7V159.0M820.25,153.3h1.5M821.75,157.3h1.5M823.50,153.0V165.9M822.00,156.1h1.5M823.50,160.6h1.5M825.25,156.8V165.6M823.75,160.2h1.5M825.25,163.2h1.5M827.00,162.9V169.6M825.50,165.0h1.5M827.00,165.7h1.5M828.75,161.0V170.5M827.25,165.9h1.5M828.75,166.2h1.5M832.25,161.6V169.2M830.75,163.5h1.5M832.25,166.4h1.5M834.00,163.4V168.2M832.50,165.1h1.5M834.00,165.5h1.5M835.75,158.8V174.5M834.25,164.5h1.5M835.75,166.6h1.5M839.25,161.1V176.5M837.75,165.4h1.5M839.25,168.4h1.5M842.75,161.2V174.5M841.25,167.0h1.5M842.75,171.5h1.5M844.50,168.2V182.8M843.00,172.8h1.5M844.50,174.3h1.5M846.25,169.9V181.8M844.75,176.0h1.5M846.25,176.0h1.5M848.00,171.2V191.8M846.50,176.9h1.5M848.00,189.1h1.5M849.75,186.7V192.7M848.25,188.9h1.5M849.75,191.1h1.5M851.50,188.7V203.8M850.00,190.9h1.5M851.50,200.7h1.5M865.50,115.2V125.7M864.00,119.8h1.5M865.50,121.7h1.5M867.25,111.8V130.2M865.75,120.5h1.5M867.25,123.2h1.5M869.00,120.4V132.5M867.50,122.1h1.5M869.00,127.5h1.5M872.50,116.5V137.6M871.00,122.3h1.5M872.50,134.6h1.5M874.25,132.3V151.9M872.75,133.8h1.5M874.25,146.4h1.5M879.50,133.2V149.5M878.00,139.6h1.5M879.50,146.0h1.5M881.25,141.4V148.2M879.75,143.6h1.5M881.25,146.1h1.5M886.50,126.9V134.5M885.00,131.4h1.5M886.50,132.1h1.5M888.25,128.5V140.1M886.75,133.7h1.5M888.25,135.1h1.5M890.00,132.7V145.1M888.50,134.7h1.5M890.00,139.3h1.5M904.00,89.6V107.1M902.50,95.2h1.5M904.00,104.1h1.5M907.50,103.6V115.4M906.00,107.9h1.5M907.50,110.9h1.5M909.25,104.1V118.2M907.75,111.4h1.5M909.25,114.4h1.5M911.00,107.4V118.9M909.50,114.9h1.5M911.00,115.9h1.5M912.75,111.8V124.1M911.25,116.8h1.5M912.75,118.0h1.5M918.00,105.5V111.4M916.50,108.7h1.5M918.00,108.9h1.5M923.25,91.2V107.5M921.75,95.6h1.5M923.25,103.7h1.5M925.00,102.1V109.8M923.50,104.1h1.5M925.00,105.2h1.5M926.75,102.2V111.0M925.25,106.2h1.5M926.75,107.3h1.5M928.50,99.4V114.0M927.00,105.0h1.5M928.50,112.5h1.5M930.25,108.8V121.1M928.75,113.4h1.5M930.25,115.7h1.5M940.75,75.2V89.4M939.25,79.9h1.5M940.75,83.9h1.5M944.25,77.5V92.3M942.75,82.9h1.5M944.25,87.9h1.5M951.25,42.1V57.8M949.75,45.4h1.5M951.25,56.2h1.5M953.00,48.6V72.3M951.50,55.1h1.5M953.00,60.4h1.5M954.75,56.3V65.7M953.25,59.6h1.5M954.75,61.6h1.5M963.50,17.7V30.4M962.00,20.5h1.5M963.50,26.7h1.5M968.75,18.0V33.6M967.25,19.6h1.5M968.75,30.3h1.5M970.50,22.2V41.6M969.00,30.7h1.5M970.50,39.1h1.5M972.25,35.6V42.0M970.75,37.7h1.5M972.25,40.3h1.5M974.00,37.0V50.2M972.50,39.2h1.5M974.00,45.2h1.5M975.75,37.8V56.1M974.25,46.0h1.5M975.75,49.8h1.5M979.25,38.5V62.3M977.75,48.4h1.5M979.25,56.0h1.5M982.75,46.1V69.4M981.25,50.8h1.5M982.75,60.4h1.5M984.50,50.3V69.7M983.00,59.5h1.5M984.50,62.4h1.5M988.00,49.6V66.2M986.50,53.9h1.5M988.00,57.5h1.5" stroke="#FF0000" stroke-width="1" fill="none"/>
<path d="M8.0,241.0 C8.6,239.8 10.2,235.9 11.5,233.7 C12.8,231.5 14.2,229.8 16.1,227.9 C18.0,226.0 20.7,224.7 23.0,222.2 C25.3,219.7 27.6,215.7 29.9,213.0 C32.2,210.3 34.5,208.4 36.8,206.1 C39.1,203.8 41.4,201.3 43.7,199.2 C46.0,197.1 48.1,195.4 50.6,193.4 C53.1,191.4 55.4,189.9 59.0,187.0 C62.6,184.1 68.8,177.4 72.4,176.0 C76.0,174.6 76.8,176.1 80.4,178.8 C84.0,181.5 89.8,189.6 93.8,192.0 C97.8,194.4 101.5,190.8 104.6,193.5 C107.7,196.2 109.9,201.1 112.6,208.0 C115.3,214.9 118.2,228.4 120.6,235.0 C123.0,241.6 124.7,243.8 126.9,247.4 C129.1,251.0 131.1,253.5 133.8,256.6 C136.5,259.7 140.5,263.3 143.0,265.8 C145.5,268.3 146.4,271.1 148.7,271.5 C151.0,271.9 154.6,268.4 156.7,268.0 C158.8,267.6 159.0,270.3 161.3,269.2 C163.6,268.1 167.4,264.2 170.5,261.2 C173.6,258.1 176.6,254.0 179.7,250.9 C182.8,247.8 185.8,245.1 188.9,242.8 C192.0,240.5 195.3,238.5 198.0,237.0 C200.7,235.5 202.7,233.4 205.0,233.6 C207.3,233.8 209.2,236.8 211.9,238.2 C214.6,239.5 217.9,240.9 221.0,241.7 C224.1,242.5 227.1,242.2 230.2,242.8 C233.3,243.4 236.4,244.3 239.4,245.0 C242.4,245.7 245.5,245.2 248.4,246.9 C251.3,248.6 254.1,254.2 256.9,255.3 C259.7,256.4 262.9,253.7 265.3,253.2 C267.8,252.7 268.8,251.6 271.6,252.1 C274.4,252.6 278.1,255.3 282.0,256.4 C285.9,257.5 291.3,257.1 294.8,258.5 C298.3,259.9 300.1,262.4 303.2,264.8 C306.3,267.2 310.2,271.1 313.7,273.2 C317.2,275.3 320.8,276.0 324.3,277.4 C327.8,278.8 331.3,282.0 334.8,281.6 C338.3,281.2 341.8,277.4 345.3,275.3 C348.8,273.2 352.4,270.4 355.9,269.0 C359.4,267.6 363.9,267.6 366.4,266.9 C368.9,266.2 368.2,263.8 370.7,264.8 C373.2,265.8 377.4,270.0 381.4,272.9 C385.4,275.8 390.8,279.2 394.8,282.3 C398.8,285.4 402.0,286.5 405.6,291.6 C409.2,296.7 412.7,307.1 416.3,313.1 C419.9,319.1 423.4,322.9 427.0,327.8 C430.6,332.7 434.1,338.4 437.7,342.6 C441.3,346.9 444.8,352.0 448.4,353.3 C452.0,354.6 455.6,352.2 459.2,350.6 C462.8,349.0 466.3,347.2 469.9,343.9 C473.5,340.5 477.1,334.7 480.6,330.5 C484.1,326.3 487.2,322.0 490.7,318.7 C494.2,315.4 497.8,315.1 501.4,310.6 C505.0,306.1 509.1,297.8 512.2,291.8 C515.3,285.8 517.5,278.9 520.2,274.4 C522.9,269.9 525.1,267.0 528.2,265.0 C531.3,263.0 535.4,263.3 539.0,262.4 C542.6,261.5 546.1,261.0 549.7,259.7 C553.3,258.4 556.8,256.8 560.4,254.3 C564.0,251.8 567.5,246.5 571.1,244.9 C574.7,243.3 578.2,244.6 581.8,244.9 C585.4,245.2 589.5,246.8 592.6,246.8 C595.7,246.8 598.0,246.8 600.6,244.9 C603.2,243.0 605.7,238.5 608.4,235.3 C611.1,232.1 614.1,228.6 616.9,225.8 C619.7,223.0 622.8,220.3 625.3,218.4 C627.8,216.5 628.8,214.9 631.6,214.2 C634.4,213.5 638.9,213.8 642.1,214.2 C645.3,214.5 648.3,216.0 650.6,216.3 C652.9,216.7 653.7,214.2 655.8,216.3 C657.9,218.4 660.6,224.9 663.2,229.0 C665.8,233.1 669.1,238.0 671.6,240.6 C674.1,243.2 675.2,244.3 678.0,244.8 C680.8,245.3 684.6,243.9 688.5,243.7 C692.4,243.5 696.9,244.0 701.1,243.7 C705.3,243.3 709.0,242.1 713.8,241.6 C718.6,241.1 725.4,240.7 730.0,240.6 C734.6,240.5 737.7,240.6 741.4,241.2 C745.1,241.8 749.5,243.0 752.2,243.9 C754.9,244.8 755.3,247.3 757.5,246.6 C759.7,245.9 762.9,243.2 765.6,239.9 C768.3,236.6 770.5,231.0 773.6,226.5 C776.7,222.0 780.7,218.5 784.3,213.1 C787.9,207.7 791.4,200.1 795.0,194.3 C798.6,188.5 802.2,184.0 805.8,178.2 C809.4,172.4 812.9,163.7 816.5,159.5 C820.1,155.3 823.6,154.4 827.2,152.8 C830.8,151.2 834.8,150.1 837.9,150.1 C841.0,150.1 844.0,151.7 846.0,152.8 C848.0,153.9 848.3,154.4 850.0,156.8 C851.7,159.2 854.2,168.3 856.1,167.1 C858.0,165.9 859.2,154.6 861.4,149.7 C863.6,144.8 866.4,139.6 869.5,137.6 C872.6,135.6 876.6,138.3 880.2,137.6 C883.8,136.9 887.3,136.5 890.9,133.6 C894.5,130.7 898.0,124.2 901.6,120.2 C905.2,116.2 908.8,112.2 912.4,109.5 C916.0,106.8 919.5,105.2 923.1,104.1 C926.7,103.0 930.2,104.4 933.8,102.8 C937.4,101.2 942.2,96.8 944.5,94.7 C946.8,92.6 945.9,94.0 947.6,90.2 C949.3,86.4 952.5,77.0 954.5,72.0 C956.5,67.0 957.8,64.2 959.6,60.0 C961.4,55.8 963.6,49.8 965.3,46.7 C967.0,43.6 968.5,42.6 970.0,41.5 C971.5,40.4 972.1,40.7 974.0,40.0 C975.9,39.3 979.2,37.6 981.4,37.5 C983.6,37.4 985.5,38.8 987.2,39.2 C988.9,39.6 991.0,39.7 991.8,39.8" stroke="#DAA520" stroke-width="1.2" fill="none" stroke-linejoin="round"/>
<path d="M8.0,226.8 C8.5,225.3 10.0,219.6 10.9,217.6 C11.8,215.6 12.4,214.7 13.2,214.7 C14.0,214.7 14.7,216.6 15.5,217.6 C16.3,218.6 17.0,219.6 17.8,220.5 C18.6,221.4 19.2,222.9 20.1,222.8 C21.0,222.7 22.0,221.2 23.0,219.9 C24.0,218.7 24.8,216.9 25.9,215.3 C27.0,213.7 28.7,211.2 29.9,210.1 C31.1,209.0 32.1,209.8 33.3,209.0 C34.4,208.2 35.6,206.8 36.8,205.5 C37.9,204.2 39.2,202.3 40.2,201.5 C41.2,200.7 41.5,200.7 42.5,200.9 C43.5,201.1 45.0,202.2 46.0,202.6 C47.0,203.0 47.3,203.6 48.3,203.2 C49.2,202.8 50.6,201.4 51.7,200.3 C52.9,199.2 53.9,197.7 55.2,196.9 C56.6,196.1 58.3,197.4 59.8,195.7 C61.3,194.0 62.6,188.5 64.3,186.8 C66.0,185.1 68.1,185.3 69.7,185.5 C71.3,185.7 71.9,185.6 73.7,188.0 C75.5,190.4 77.9,196.4 80.4,200.0 C82.9,203.6 86.0,206.4 88.5,209.6 C91.0,212.8 93.2,218.3 95.2,219.0 C97.2,219.7 98.7,216.1 100.5,213.6 C102.3,211.1 104.3,203.6 105.9,204.0 C107.5,204.4 108.4,206.3 110.0,216.0 C111.6,225.7 113.5,251.2 115.3,262.0 C117.1,272.8 119.2,277.3 120.6,280.6 C121.9,283.9 122.0,284.0 123.4,281.9 C124.8,279.8 127.3,271.1 129.2,268.0 C131.1,264.9 133.1,264.1 135.0,263.5 C136.9,262.9 139.2,264.0 140.7,264.6 C142.2,265.2 142.9,266.0 144.0,267.0 C145.1,268.0 146.0,270.6 147.0,270.4 C148.0,270.2 148.8,268.7 149.9,265.8 C151.0,262.9 152.2,255.5 153.3,253.0 C154.4,250.5 155.4,251.6 156.7,250.9 C158.0,250.2 159.8,250.1 161.3,248.6 C162.9,247.1 164.1,244.0 166.0,241.7 C167.9,239.4 170.7,237.1 172.8,234.8 C174.9,232.5 176.7,230.0 178.6,227.9 C180.5,225.8 182.8,222.4 184.3,222.0 C185.8,221.6 186.1,225.2 187.8,225.6 C189.5,226.0 192.1,224.5 194.6,224.5 C197.1,224.5 200.8,224.3 202.7,225.6 C204.6,226.9 204.7,229.3 206.0,232.5 C207.3,235.7 208.9,243.1 210.7,245.0 C212.4,246.9 214.4,244.0 216.5,244.0 C218.6,244.0 221.1,244.1 223.4,245.0 C225.7,245.9 227.9,249.1 230.2,249.7 C232.5,250.3 234.7,249.2 237.0,248.6 C239.3,248.0 242.1,247.5 244.0,246.3 C245.9,245.1 247.1,239.9 248.4,241.6 C249.7,243.3 250.6,252.0 251.6,256.4 C252.6,260.8 253.6,266.4 254.7,268.0 C255.8,269.6 256.8,267.7 257.9,265.8 C258.9,263.9 259.6,260.1 261.0,256.4 C262.4,252.7 264.7,244.8 266.3,243.7 C267.9,242.6 269.0,249.1 270.6,250.0 C272.2,250.9 274.1,247.8 275.8,249.0 C277.5,250.2 279.2,255.3 281.0,257.4 C282.8,259.5 284.3,261.8 286.4,261.6 C288.5,261.4 292.1,257.4 293.7,256.4 C295.3,255.3 294.8,254.2 295.8,255.3 C296.9,256.4 298.4,259.9 300.0,262.7 C301.6,265.5 303.5,268.5 305.3,272.2 C307.1,275.9 308.8,283.1 310.6,284.8 C312.4,286.6 313.8,284.8 315.9,282.7 C318.0,280.6 321.3,273.1 323.2,272.2 C325.1,271.3 326.2,275.5 327.4,277.4 C328.6,279.3 329.4,283.7 330.6,283.7 C331.8,283.7 333.6,278.3 334.8,277.4 C336.0,276.5 336.6,279.6 338.0,278.5 C339.4,277.4 341.3,273.7 343.2,271.1 C345.1,268.5 347.7,265.3 349.6,262.7 C351.5,260.1 352.9,256.7 354.8,255.3 C356.7,253.9 359.4,253.3 361.2,254.2 C363.0,255.1 363.6,259.2 365.4,260.8 C367.2,262.4 369.8,261.3 372.0,263.5 C374.2,265.7 376.3,271.1 378.8,274.2 C381.3,277.3 384.1,279.6 386.8,282.3 C389.5,285.0 392.6,287.4 394.8,290.3 C397.0,293.2 398.2,297.5 400.2,299.7 C402.2,301.9 404.9,300.1 406.9,303.7 C408.9,307.3 410.9,316.2 412.3,321.1 C413.7,326.0 413.4,331.4 415.0,333.2 C416.6,335.0 419.4,331.8 421.6,331.8 C423.8,331.8 426.3,331.6 428.3,333.2 C430.3,334.8 431.7,338.5 433.7,341.2 C435.7,343.9 438.2,347.3 440.4,349.3 C442.6,351.3 445.3,354.0 447.1,353.3 C448.9,352.6 449.8,347.9 451.1,345.2 C452.5,342.5 453.4,339.6 455.2,337.2 C457.0,334.8 459.6,333.4 461.8,330.5 C464.0,327.6 466.7,322.7 468.5,319.8 C470.3,316.9 470.8,316.0 472.6,313.1 C474.4,310.2 477.2,303.7 479.3,302.4 C481.4,301.1 483.3,304.5 485.4,305.2 C487.5,305.9 489.8,307.7 492.0,306.6 C494.2,305.5 496.6,301.2 498.8,298.5 C501.1,295.8 503.5,293.9 505.5,290.5 C507.5,287.1 509.2,283.1 510.8,278.4 C512.4,273.7 513.4,266.9 514.8,262.4 C516.1,257.9 517.3,250.9 518.9,251.6 C520.5,252.3 522.2,264.6 524.2,266.4 C526.2,268.2 528.9,261.9 530.9,262.4 C532.9,262.8 534.5,266.4 536.3,269.1 C538.1,271.8 539.6,278.0 541.6,278.4 C543.6,278.8 546.1,274.4 548.3,271.7 C550.5,269.0 553.0,264.6 555.0,262.4 C557.0,260.2 558.6,259.6 560.4,258.3 C562.2,257.0 563.8,256.5 565.8,254.3 C567.8,252.1 570.3,244.5 572.5,244.9 C574.7,245.3 576.8,254.3 579.2,257.0 C581.7,259.7 584.5,261.4 587.2,261.0 C589.9,260.6 593.1,255.6 595.2,254.3 C597.3,253.0 598.5,256.6 600.0,253.2 C601.5,249.8 602.6,238.9 604.2,234.2 C605.8,229.5 607.8,227.6 609.5,224.8 C611.2,222.0 612.8,218.3 614.7,217.4 C616.6,216.5 619.0,219.7 621.1,219.5 C623.2,219.3 625.3,216.0 627.4,216.3 C629.5,216.7 631.6,220.4 633.7,221.6 C635.8,222.8 638.1,222.6 640.0,223.7 C641.9,224.8 643.7,226.5 645.3,227.9 C646.9,229.3 648.1,232.1 649.5,232.1 C650.9,232.1 652.5,226.8 653.7,227.9 C654.9,229.0 655.7,233.9 656.9,238.5 C658.1,243.1 659.5,251.5 661.1,255.3 C662.7,259.2 664.8,260.0 666.4,261.6 C668.0,263.2 669.2,265.5 670.6,264.8 C672.0,264.1 673.2,260.7 674.8,257.4 C676.4,254.1 678.4,248.0 680.1,244.8 C681.9,241.7 683.5,238.7 685.3,238.5 C687.0,238.3 688.8,243.3 690.6,243.7 C692.4,244.0 694.0,241.6 695.9,240.6 C697.8,239.6 700.3,237.1 702.2,237.4 C704.1,237.8 705.4,243.2 707.5,242.7 C709.6,242.2 712.3,234.5 714.8,234.2 C717.2,233.8 720.2,239.4 722.2,240.6 C724.2,241.8 724.6,240.9 726.7,241.2 C728.8,241.5 732.0,243.0 734.7,242.6 C737.4,242.2 740.3,238.5 742.8,238.5 C745.3,238.5 747.5,241.2 749.5,242.6 C751.5,243.9 753.0,246.6 754.8,246.6 C756.6,246.6 758.6,245.9 760.2,242.6 C761.8,239.2 762.6,231.9 764.2,226.5 C765.8,221.1 767.8,214.7 769.6,210.4 C771.4,206.2 772.9,202.3 774.9,201.0 C776.9,199.7 779.8,204.8 781.6,202.4 C783.4,200.0 783.9,191.0 785.7,186.3 C787.5,181.6 790.4,176.4 792.4,174.2 C794.4,172.0 795.5,173.1 797.7,172.9 C799.9,172.7 803.3,175.1 805.8,172.9 C808.3,170.7 810.7,163.3 812.5,159.5 C814.3,155.7 815.0,150.8 816.5,150.1 C818.0,149.4 819.6,153.5 821.8,155.5 C824.0,157.5 827.2,160.6 829.9,162.2 C832.6,163.8 836.2,164.2 837.9,164.8 C839.6,165.4 838.5,165.2 840.0,165.8 C841.5,166.4 845.1,166.2 846.7,168.4 C848.3,170.6 848.5,175.2 849.4,179.2 C850.3,183.2 851.2,188.6 852.1,192.6 C853.0,196.6 853.8,204.7 854.7,203.3 C855.6,202.0 856.5,192.6 857.4,184.5 C858.3,176.4 859.0,164.4 860.1,155.0 C861.2,145.6 863.0,134.4 864.1,128.2 C865.2,121.9 865.9,119.0 866.8,117.5 C867.7,116.0 868.4,116.2 869.5,118.9 C870.6,121.6 872.2,129.6 873.5,133.6 C874.8,137.6 875.9,141.7 877.5,143.0 C879.1,144.3 881.3,142.5 882.9,141.6 C884.5,140.7 885.6,137.6 886.9,137.6 C888.2,137.6 889.3,142.9 890.9,141.6 C892.5,140.3 894.5,134.7 896.3,129.6 C898.1,124.5 900.3,115.5 901.6,110.8 C902.9,106.1 903.2,101.2 904.3,101.4 C905.4,101.6 906.9,110.4 908.3,112.2 C909.6,114.0 911.0,111.5 912.4,112.2 C913.8,112.9 915.1,116.9 916.4,116.2 C917.7,115.5 919.1,109.9 920.4,108.1 C921.7,106.3 923.1,104.6 924.4,105.5 C925.7,106.4 927.0,111.7 928.4,113.5 C929.8,115.3 931.1,118.0 932.5,116.2 C933.9,114.4 935.0,106.4 936.5,102.8 C938.0,99.2 939.9,96.7 941.8,94.7 C943.6,92.7 946.2,94.2 947.6,91.0 C949.0,87.8 949.3,80.4 950.2,75.5 C951.1,70.6 951.8,66.6 952.8,61.7 C953.8,56.8 955.1,51.1 956.2,46.2 C957.4,41.3 958.6,36.0 959.7,32.4 C960.9,28.8 962.0,25.6 963.1,24.7 C964.2,23.8 965.6,25.9 966.6,27.2 C967.6,28.5 968.2,30.4 969.1,32.4 C970.0,34.4 970.8,37.0 971.7,39.3 C972.6,41.6 973.3,44.3 974.3,46.2 C975.3,48.1 976.8,49.8 977.8,50.5 C978.8,51.2 979.3,49.9 980.3,50.5 C981.3,51.1 982.6,52.5 983.8,54.0 C984.9,55.5 986.1,58.2 987.2,59.5 C988.3,60.8 989.4,61.3 990.5,61.5 C991.6,61.7 993.4,60.7 994.0,60.5" stroke="#1E90FF" stroke-width="1.3" fill="none" stroke-linejoin="round"/>
<path d="M7.6,412.8 C9.3,411.1 14.4,405.7 17.8,402.7 C21.2,399.7 24.1,397.3 27.9,395.0 C31.7,392.7 35.9,390.2 40.6,388.7 C45.3,387.2 50.8,386.6 55.9,386.2 C61.0,385.8 66.9,385.1 71.1,386.2 C75.3,387.2 77.5,389.3 81.3,392.5 C85.1,395.7 89.8,401.2 94.0,405.2 C98.2,409.2 103.6,413.3 106.7,416.6 C109.8,419.9 110.2,421.0 112.5,425.0 C114.8,429.0 117.7,435.1 120.3,440.6 C122.9,446.1 125.5,453.1 128.1,457.8 C130.7,462.5 133.0,465.3 135.9,468.8 C138.8,472.3 142.2,476.3 145.3,478.9 C148.4,481.5 151.8,483.6 154.7,484.4 C157.6,485.2 159.9,484.7 162.5,483.6 C165.1,482.6 167.2,480.6 170.3,478.1 C173.4,475.6 177.7,472.2 181.3,468.8 C185.0,465.4 188.8,461.2 192.2,457.8 C195.6,454.4 198.7,450.7 201.6,448.4 C204.5,446.1 206.0,444.2 209.4,443.8 C212.8,443.4 218.0,445.6 221.9,446.1 C225.8,446.6 229.8,446.7 232.8,446.9 C235.8,447.1 237.5,447.1 240.0,447.5 C242.5,447.9 245.2,448.3 247.8,449.1 C250.4,449.9 253.0,451.3 255.6,452.2 C258.2,453.1 260.0,454.0 263.4,454.5 C266.8,455.0 272.1,454.7 276.0,455.0 C279.9,455.3 283.3,455.8 286.9,456.1 C290.5,456.4 294.4,456.2 297.8,456.6 C301.2,457.0 304.1,457.4 307.2,458.4 C310.3,459.3 313.2,461.3 316.6,462.3 C320.0,463.3 324.1,463.9 327.5,464.4 C330.9,464.8 334.3,465.1 336.9,465.0 C339.5,464.9 340.5,465.0 343.1,463.9 C345.7,462.8 349.1,460.5 352.5,458.4 C355.9,456.3 360.0,453.3 363.4,451.4 C366.8,449.5 369.9,448.2 372.8,447.2 C375.7,446.2 377.6,445.5 380.6,445.6 C383.6,445.7 387.6,446.7 391.0,447.6 C394.4,448.5 397.5,449.4 400.7,451.0 C403.9,452.6 407.3,454.8 410.3,457.2 C413.3,459.6 415.6,462.7 418.6,465.5 C421.6,468.3 425.1,471.3 428.3,473.8 C431.5,476.3 435.1,478.8 437.9,480.7 C440.6,482.6 442.4,484.4 444.8,485.5 C447.2,486.6 449.9,487.6 452.4,487.6 C454.9,487.6 457.4,486.9 460.0,485.5 C462.6,484.1 465.5,481.8 468.3,479.3 C471.1,476.8 473.9,473.5 476.6,470.3 C479.4,467.1 482.1,463.6 484.8,460.0 C487.6,456.4 490.8,452.3 493.1,449.0 C495.4,445.7 497.5,441.9 498.6,440.0 C499.8,438.1 498.0,440.3 500.0,437.7 C502.0,435.1 507.0,429.5 510.5,424.5 C514.0,419.5 517.9,412.4 521.1,407.9 C524.3,403.4 527.3,400.0 529.9,397.7 C532.5,395.4 534.3,394.7 536.9,393.8 C539.5,392.9 542.5,392.5 545.7,392.4 C548.9,392.2 552.7,392.7 556.2,392.9 C559.7,393.1 563.6,393.7 566.8,393.8 C570.0,393.9 572.7,393.0 575.6,393.3 C578.5,393.6 581.5,394.5 584.4,395.5 C587.3,396.5 590.0,398.2 593.2,399.4 C596.4,400.6 600.5,402.2 603.7,402.6 C606.9,403.0 609.6,402.4 612.5,401.7 C615.4,401.0 618.1,399.7 621.3,398.7 C624.5,397.7 628.6,396.0 631.8,395.5 C635.0,395.0 637.7,395.4 640.6,395.9 C643.5,396.3 646.8,397.2 649.4,398.2 C652.0,399.2 654.0,399.8 656.4,401.7 C658.8,403.6 660.9,406.2 663.5,409.6 C666.1,413.0 669.5,418.4 672.3,421.9 C675.1,425.4 677.0,428.2 680.3,430.6 C683.6,433.0 688.5,434.9 691.9,436.5 C695.3,438.1 696.1,439.6 700.8,440.3 C705.5,441.1 711.8,440.9 720.0,441.0 C728.2,441.1 744.1,440.9 750.0,441.0 C755.9,441.1 753.4,441.5 755.4,441.8 C757.4,442.1 759.4,442.8 761.7,442.6 C764.0,442.5 766.8,442.3 769.3,440.9 C771.8,439.5 775.1,435.7 777.0,434.0 C778.9,432.3 777.8,433.5 780.5,430.6 C783.2,427.7 789.0,421.1 793.2,416.6 C797.4,412.2 801.7,407.4 805.9,403.9 C810.1,400.4 814.4,397.7 818.6,395.8 C822.8,393.9 827.7,392.7 831.3,392.5 C834.9,392.3 837.2,393.4 840.0,394.4 C842.8,395.4 845.4,396.5 847.8,398.3 C850.1,400.1 852.0,402.8 854.1,405.3 C856.2,407.8 857.4,411.9 860.3,413.1 C863.2,414.3 867.4,412.2 871.3,412.3 C875.2,412.4 879.9,413.3 883.8,413.9 C887.7,414.5 891.1,416.1 894.7,415.9 C898.3,415.7 902.2,413.5 905.6,412.8 C909.0,412.1 911.9,412.0 915.0,411.9 C918.1,411.8 921.3,411.4 924.4,411.9 C927.5,412.4 930.9,413.9 933.8,414.7 C936.7,415.5 939.0,416.2 941.6,416.6 C944.2,417.0 946.8,417.6 949.4,417.0 C952.0,416.4 954.6,415.2 957.2,413.1 C959.8,411.0 962.4,407.0 965.0,404.5 C967.6,402.0 970.2,399.6 972.8,398.3 C975.4,397.0 978.2,396.6 980.6,396.7 C983.0,396.8 985.0,398.1 986.9,399.1 C988.8,400.1 991.4,401.9 992.3,402.5" stroke="#FFA500" stroke-width="1.7" fill="none" stroke-linejoin="round"/>
<path d="M7.6,409.0 C8.4,407.9 10.8,404.0 12.7,402.7 C14.6,401.4 16.5,402.5 19.0,401.4 C21.5,400.3 24.3,397.9 27.9,396.3 C31.5,394.7 36.8,392.6 40.6,391.7 C44.4,390.8 47.0,391.0 50.8,390.7 C54.6,390.4 59.7,389.8 63.5,390.0 C67.3,390.2 70.6,390.2 73.6,391.7 C76.6,393.2 78.3,396.0 81.3,398.9 C84.3,401.8 88.5,406.1 91.4,409.0 C94.4,411.9 96.5,414.7 99.0,416.6 C101.5,418.5 105.0,419.0 106.7,420.4 C108.4,421.8 107.9,421.9 109.4,425.0 C110.9,428.1 113.5,434.4 115.6,439.1 C117.7,443.8 119.8,449.3 121.9,453.1 C124.0,456.9 125.8,459.5 128.1,461.7 C130.4,463.9 133.3,464.7 135.9,466.4 C138.5,468.1 141.7,470.5 143.8,471.9 C145.9,473.3 146.6,475.0 148.4,475.0 C150.2,475.0 152.6,472.5 154.7,471.9 C156.8,471.3 158.6,472.7 160.9,471.6 C163.2,470.6 165.9,467.8 168.8,465.6 C171.7,463.4 175.2,460.7 178.1,458.6 C180.9,456.5 183.0,454.8 185.9,453.1 C188.8,451.4 191.9,449.8 195.3,448.4 C198.7,447.0 203.4,444.5 206.3,444.5 C209.2,444.5 209.9,447.5 212.5,448.4 C215.1,449.3 218.5,449.2 221.9,449.7 C225.3,450.2 229.8,451.1 232.8,451.6 C235.8,452.1 237.5,452.5 240.0,452.5 C242.5,452.5 245.5,450.5 247.8,451.4 C250.2,452.3 252.4,456.5 254.1,457.7 C255.8,458.9 256.4,458.7 258.0,458.4 C259.6,458.1 261.8,456.8 263.4,456.1 C264.9,455.5 265.2,454.7 267.3,454.5 C269.4,454.3 273.0,454.6 276.0,455.0 C279.0,455.4 282.4,457.1 285.3,457.2 C288.2,457.3 291.0,455.9 293.1,455.6 C295.2,455.3 295.7,455.0 297.8,455.6 C299.9,456.2 303.2,457.9 305.6,459.2 C308.0,460.4 309.5,462.2 311.9,463.1 C314.2,464.0 317.6,464.4 319.7,464.4 C321.8,464.3 322.6,462.8 324.4,462.8 C326.2,462.9 328.5,464.5 330.6,464.7 C332.7,464.9 334.3,464.8 336.9,463.9 C339.5,463.0 343.2,461.1 346.3,459.2 C349.4,457.2 352.8,453.9 355.6,452.2 C358.5,450.5 360.5,449.7 363.4,448.8 C366.3,447.9 370.4,447.0 372.8,446.7 C375.2,446.4 374.9,446.4 377.5,447.2 C380.1,448.0 385.4,450.5 388.3,451.7 C391.2,452.9 392.9,453.4 395.2,454.5 C397.5,455.6 399.8,457.5 402.1,458.6 C404.4,459.8 406.7,459.5 409.0,461.4 C411.3,463.2 413.8,467.8 415.9,469.7 C418.0,471.6 419.3,472.1 421.4,473.1 C423.5,474.1 425.8,474.6 428.3,475.9 C430.8,477.2 434.3,479.4 436.6,480.7 C438.9,481.9 440.2,482.7 442.1,483.4 C444.1,484.1 446.2,485.2 448.3,484.8 C450.4,484.4 452.1,482.4 454.5,480.7 C456.9,479.0 460.3,476.8 462.8,474.5 C465.3,472.2 466.9,470.2 469.7,466.9 C472.4,463.6 476.3,457.7 479.3,454.5 C482.3,451.3 484.8,449.9 487.6,447.6 C490.4,445.3 493.8,442.6 495.9,440.7 C498.0,438.8 498.1,438.2 500.0,436.0 C501.9,433.8 504.9,430.0 507.0,427.2 C509.1,424.4 510.2,422.5 512.3,419.3 C514.3,416.1 516.9,410.2 519.3,407.9 C521.6,405.5 524.0,406.2 526.4,405.2 C528.8,404.2 530.8,402.3 533.4,402.0 C536.0,401.7 539.9,403.4 542.2,403.5 C544.6,403.6 545.8,402.9 547.5,402.6 C549.2,402.3 550.4,402.1 552.7,401.7 C555.0,401.3 559.0,400.7 561.5,400.3 C564.0,399.9 565.7,399.7 567.7,399.1 C569.8,398.6 571.6,397.0 573.8,397.0 C576.0,397.0 578.0,398.1 580.9,399.1 C583.8,400.1 588.2,402.1 591.4,402.9 C594.6,403.7 597.9,404.2 600.2,404.0 C602.6,403.8 603.1,403.0 605.5,401.7 C607.9,400.4 611.4,397.5 614.3,396.4 C617.2,395.3 620.1,395.4 623.0,395.0 C625.9,394.6 629.4,394.2 631.8,394.3 C634.1,394.4 634.8,395.0 637.1,395.9 C639.5,396.8 643.3,398.6 645.9,399.9 C648.5,401.2 650.3,400.7 652.9,403.5 C655.5,406.3 658.8,412.8 661.7,416.6 C664.6,420.4 667.4,423.9 670.5,426.3 C673.6,428.7 678.4,430.2 680.5,430.8 C682.6,431.4 681.3,430.0 683.0,430.2 C684.7,430.4 687.6,431.7 690.6,432.1 C693.6,432.5 697.8,432.2 700.8,432.7 C703.8,433.2 705.9,434.8 708.4,435.0 C710.9,435.2 713.0,433.6 716.0,433.7 C719.0,433.8 722.0,435.3 726.2,435.9 C730.4,436.5 737.2,436.4 741.4,437.1 C745.6,437.8 749.3,439.6 751.6,440.3 C753.9,441.1 753.7,441.5 755.4,441.6 C757.1,441.7 759.4,442.0 761.7,440.9 C764.0,439.8 766.2,437.6 769.3,435.2 C772.3,432.8 777.7,428.1 780.0,426.3 C782.3,424.5 780.8,426.4 783.0,424.2 C785.2,421.9 789.8,415.7 793.2,412.8 C796.6,409.9 800.3,408.5 803.3,407.0 C806.3,405.5 808.5,405.5 811.0,403.9 C813.5,402.3 816.1,398.6 818.6,397.6 C821.1,396.6 823.2,397.5 826.2,398.1 C829.2,398.7 834.0,400.6 836.3,401.4 C838.6,402.2 838.3,402.2 840.0,403.0 C841.7,403.8 844.5,404.6 846.3,406.1 C848.1,407.7 849.2,409.7 850.9,412.3 C852.6,414.9 854.8,420.8 856.4,421.7 C858.0,422.6 859.1,419.4 860.3,417.8 C861.5,416.2 862.0,414.0 863.4,412.3 C864.8,410.6 867.1,407.9 868.9,407.7 C870.7,407.5 872.2,410.4 874.4,411.3 C876.6,412.2 879.9,412.3 882.2,412.8 C884.5,413.3 886.3,414.2 888.4,414.4 C890.5,414.6 892.6,414.6 894.7,413.9 C896.8,413.2 899.2,411.0 900.9,410.0 C902.6,409.0 903.5,407.8 904.8,407.7 C906.1,407.6 907.4,409.3 908.8,409.7 C910.2,410.1 910.8,410.0 913.4,410.3 C916.0,410.6 921.8,410.9 924.4,411.6 C927.0,412.3 927.5,413.7 929.1,414.7 C930.7,415.7 932.0,417.5 933.8,417.8 C935.6,418.1 937.7,416.7 940.0,416.3 C942.3,415.9 945.2,416.8 947.8,415.5 C950.4,414.2 953.0,411.3 955.6,408.4 C958.2,405.5 961.2,400.4 963.4,398.3 C965.6,396.2 967.1,395.7 968.9,395.6 C970.7,395.5 972.4,396.5 974.4,397.5 C976.4,398.5 978.5,399.7 980.6,401.4 C982.7,403.1 985.1,406.3 986.9,407.7 C988.7,409.1 990.8,409.6 991.6,410.0" stroke="#1E90FF" stroke-width="1.7" fill="none" stroke-linejoin="round"/>
<path d="M7,437.2h1V441h-1zM9,437.2h1V441h-1zM10,437.2h1V441h-1zM11,437.2h1V441h-1zM12,437.2h1V441h-1zM13,437.2h1V441h-1zM15,438.9h1V441h-1zM16,440.5h1V441h-1zM17,440.6h1V441h-1zM18,440.7h1V441h-1zM20,441h1V441.3h-1zM21,441h1V441.4h-1zM22,441h1V441.5h-1zM23,441h1V441.6h-1zM24,441h1V441.7h-1zM26,441h1V442.1h-1zM27,441h1V442.4h-1zM28,441h1V442.6h-1zM29,441h1V442.9h-1zM31,441h1V443.4h-1zM32,441h1V443.6h-1zM33,441h1V443.8h-1zM34,441h1V443.9h-1zM35,441h1V444.0h-1zM37,441h1V444.3h-1zM38,441h1V444.4h-1zM39,441h1V444.5h-1zM40,441h1V444.6h-1zM42,441h1V444.8h-1zM43,441h1V444.9h-1zM44,441h1V445.0h-1zM45,441h1V445.1h-1zM46,441h1V445.2h-1zM48,441h1V445.5h-1zM49,441h1V445.6h-1zM50,441h1V445.8h-1zM51,441h1V446.0h-1zM52,441h1V446.1h-1zM54,441h1V446.5h-1zM55,441h1V446.3h-1zM56,441h1V446.1h-1zM57,441h1V445.9h-1zM59,441h1V445.5h-1zM60,441h1V445.3h-1zM61,441h1V445.2h-1zM62,441h1V445.2h-1zM63,441h1V445.3h-1zM65,441h1V445.3h-1zM66,441h1V445.3h-1zM67,441h1V445.3h-1zM68,441h1V445.4h-1zM70,441h1V445.6h-1zM71,441h1V445.8h-1zM72,441h1V446.1h-1zM73,441h1V446.4h-1zM74,441h1V446.6h-1zM76,441h1V447.1h-1zM77,441h1V447.4h-1zM78,441h1V447.6h-1zM79,441h1V447.8h-1zM80,441h1V448.0h-1zM82,441h1V448.3h-1zM83,441h1V448.5h-1zM84,441h1V448.6h-1zM85,441h1V448.8h-1zM87,441h1V449.1h-1zM88,441h1V449.2h-1zM89,441h1V449.3h-1zM90,441h1V449.2h-1zM91,441h1V449.2h-1zM93,441h1V449.1h-1zM94,441h1V449.1h-1zM95,441h1V449.0h-1zM96,441h1V449.0h-1zM98,441h1V447.8h-1zM99,441h1V447.2h-1zM100,441h1V446.6h-1zM101,441h1V446.1h-1zM102,441h1V445.6h-1zM104,441h1V444.6h-1zM105,441h1V444.3h-1zM106,441h1V444.9h-1zM107,441h1V445.5h-1zM108,441h1V446.1h-1zM110,441h1V447.3h-1zM111,441h1V447.8h-1zM112,441h1V448.3h-1zM113,441h1V448.8h-1zM115,441h1V449.8h-1zM116,441h1V450.3h-1zM117,441h1V450.5h-1zM118,441h1V450.5h-1zM119,441h1V450.5h-1zM121,441h1V450.5h-1zM122,441h1V450.0h-1zM123,441h1V449.3h-1zM124,441h1V448.5h-1zM126,441h1V447.0h-1zM127,441h1V446.2h-1zM128,441h1V445.3h-1zM129,441h1V444.4h-1zM130,441h1V443.5h-1zM132,439.7h1V441h-1zM133,439.2h1V441h-1zM134,438.7h1V441h-1zM135,438.2h1V441h-1zM136,437.7h1V441h-1zM138,436.9h1V441h-1zM139,436.5h1V441h-1zM140,436.1h1V441h-1zM141,435.7h1V441h-1zM143,435.1h1V441h-1zM144,434.8h1V441h-1zM145,434.5h1V441h-1zM146,434.2h1V441h-1zM147,433.9h1V441h-1zM149,432.4h1V441h-1zM150,431.6h1V441h-1zM151,430.8h1V441h-1zM152,429.9h1V441h-1zM153,429.4h1V441h-1zM155,428.8h1V441h-1zM156,428.4h1V441h-1zM157,428.1h1V441h-1zM158,427.9h1V441h-1zM160,427.4h1V441h-1zM161,427.1h1V441h-1zM162,426.9h1V441h-1zM163,426.6h1V441h-1zM164,426.4h1V441h-1zM166,426.1h1V441h-1zM167,426.1h1V441h-1zM168,426.1h1V441h-1zM169,426.1h1V441h-1zM171,426.1h1V441h-1zM172,426.2h1V441h-1zM173,426.4h1V441h-1zM174,426.6h1V441h-1zM175,426.8h1V441h-1zM177,427.3h1V441h-1zM178,427.5h1V441h-1zM179,427.8h1V441h-1zM180,428.1h1V441h-1zM181,428.4h1V441h-1zM183,429.1h1V441h-1zM184,429.7h1V441h-1zM185,430.3h1V441h-1zM186,430.9h1V441h-1zM188,432.1h1V441h-1zM189,432.6h1V441h-1zM190,433.1h1V441h-1zM191,433.6h1V441h-1zM192,434.1h1V441h-1zM194,435.1h1V441h-1zM195,435.6h1V441h-1zM196,436.1h1V441h-1zM197,436.6h1V441h-1zM199,437.6h1V441h-1zM200,438.1h1V441h-1zM201,438.6h1V441h-1zM202,439.1h1V441h-1zM203,439.6h1V441h-1zM205,440.6h1V441h-1zM206,441h1V441.4h-1zM207,441h1V442.7h-1zM208,441h1V443.9h-1zM209,441h1V444.3h-1zM211,441h1V444.5h-1zM212,441h1V444.6h-1zM213,441h1V444.8h-1zM214,441h1V444.9h-1zM216,441h1V445.1h-1zM217,441h1V445.2h-1zM218,441h1V445.4h-1zM219,441h1V445.4h-1zM220,441h1V445.5h-1zM222,441h1V445.6h-1zM223,441h1V445.6h-1zM224,441h1V445.7h-1zM225,441h1V445.7h-1zM227,441h1V445.8h-1zM228,441h1V445.9h-1zM229,441h1V445.9h-1zM230,441h1V445.9h-1zM231,441h1V446.0h-1zM233,441h1V445.9h-1zM234,441h1V445.8h-1zM235,441h1V445.8h-1zM236,441h1V445.7h-1zM237,441h1V445.6h-1zM239,441h1V445.5h-1zM240,441h1V445.5h-1zM241,441h1V445.4h-1zM242,441h1V445.1h-1zM244,441h1V444.4h-1zM245,441h1V444.0h-1zM246,441h1V443.6h-1zM247,441h1V443.8h-1zM248,441h1V444.3h-1zM250,441h1V445.3h-1zM251,441h1V445.8h-1zM252,441h1V446.1h-1zM253,441h1V446.2h-1zM255,441h1V446.5h-1zM256,441h1V446.6h-1zM257,441h1V446.2h-1zM258,441h1V445.4h-1zM259,441h1V444.4h-1zM261,441h1V443.8h-1zM262,441h1V443.7h-1zM263,441h1V443.6h-1zM264,441h1V442.4h-1zM265,441h1V441.4h-1zM267,441h1V441.4h-1zM268,441h1V441.4h-1zM269,441h1V441.4h-1zM270,441h1V441.4h-1zM272,441h1V441.4h-1zM273,441h1V441.4h-1zM274,441h1V441.4h-1zM275,441h1V441.4h-1zM276,441h1V441.4h-1zM278,441h1V441.4h-1zM279,441h1V441.4h-1zM280,441h1V441.4h-1zM281,441h1V441.4h-1zM283,441h1V441.4h-1zM284,441h1V441.4h-1zM285,441h1V441.4h-1zM286,441h1V441.4h-1zM287,441h1V441.4h-1zM289,441h1V441.4h-1zM290,441h1V441.4h-1zM291,441h1V441.4h-1zM292,441h1V441.4h-1zM293,441h1V441.4h-1zM295,441h1V441.4h-1zM296,441h1V441.4h-1zM297,441h1V441.4h-1zM298,441h1V441.4h-1zM300,441h1V441.6h-1zM301,441h1V441.9h-1zM302,441h1V442.1h-1zM303,441h1V442.4h-1zM304,441h1V442.7h-1zM306,441h1V443.2h-1zM307,441h1V443.5h-1zM308,441h1V443.8h-1zM309,441h1V444.1h-1zM311,441h1V444.2h-1zM312,441h1V444.0h-1zM313,441h1V443.8h-1zM314,441h1V443.5h-1zM315,441h1V443.3h-1zM317,441h1V442.3h-1zM318,441h1V441.7h-1zM328,440.7h1V441h-1zM329,440.7h1V441h-1zM330,440.6h1V441h-1zM331,440.5h1V441h-1zM332,440.3h1V441h-1zM334,440.0h1V441h-1zM335,439.8h1V441h-1zM336,439.6h1V441h-1zM337,439.3h1V441h-1zM339,438.8h1V441h-1zM340,438.5h1V441h-1zM341,438.2h1V441h-1zM342,438.0h1V441h-1zM343,437.7h1V441h-1zM345,437.1h1V441h-1zM346,436.8h1V441h-1zM347,436.5h1V441h-1zM348,436.2h1V441h-1zM349,435.9h1V441h-1zM351,435.3h1V441h-1zM352,435.4h1V441h-1zM353,435.5h1V441h-1zM354,435.5h1V441h-1zM356,435.7h1V441h-1zM357,435.8h1V441h-1zM358,435.9h1V441h-1zM359,436.1h1V441h-1zM360,436.5h1V441h-1zM362,437.2h1V441h-1zM363,437.6h1V441h-1zM364,438.0h1V441h-1zM365,438.4h1V441h-1zM367,439.0h1V441h-1zM368,439.2h1V441h-1zM369,439.4h1V441h-1zM370,439.6h1V441h-1zM371,439.8h1V441h-1zM373,440.4h1V441h-1zM375,441h1V441.7h-1zM376,441h1V442.5h-1zM377,441h1V442.9h-1zM379,441h1V443.4h-1zM380,441h1V443.7h-1zM381,441h1V444.0h-1zM382,441h1V444.3h-1zM384,441h1V444.8h-1zM385,441h1V444.9h-1zM386,441h1V445.0h-1zM387,441h1V445.1h-1zM388,441h1V445.2h-1zM390,441h1V445.4h-1zM391,441h1V445.5h-1zM392,441h1V445.5h-1zM393,441h1V445.6h-1zM395,441h1V445.7h-1zM396,441h1V445.7h-1zM397,441h1V445.8h-1zM398,441h1V445.8h-1zM399,441h1V445.8h-1zM401,441h1V445.9h-1zM402,441h1V446.0h-1zM403,441h1V446.1h-1zM404,441h1V446.3h-1zM405,441h1V446.5h-1zM407,441h1V446.9h-1zM408,441h1V447.1h-1zM409,441h1V447.3h-1zM410,441h1V447.6h-1zM412,441h1V448.0h-1zM413,441h1V448.2h-1zM414,441h1V448.4h-1zM415,441h1V448.6h-1zM416,441h1V448.1h-1zM418,441h1V447.3h-1zM419,441h1V446.9h-1zM420,441h1V446.5h-1zM421,441h1V446.0h-1zM423,441h1V445.2h-1zM424,441h1V444.9h-1zM425,441h1V444.6h-1zM426,441h1V444.2h-1zM427,441h1V443.9h-1zM429,441h1V443.3h-1zM430,441h1V442.9h-1zM431,441h1V442.8h-1zM432,441h1V442.6h-1zM433,441h1V442.5h-1zM435,441h1V442.2h-1zM436,441h1V442.0h-1zM437,441h1V441.9h-1zM438,441h1V441.7h-1zM440,441h1V441.4h-1zM443,440.3h1V441h-1zM444,439.6h1V441h-1zM446,438.3h1V441h-1zM447,437.6h1V441h-1zM448,436.9h1V441h-1zM449,436.2h1V441h-1zM451,435.1h1V441h-1zM452,434.7h1V441h-1zM453,434.3h1V441h-1zM454,434.0h1V441h-1zM455,433.6h1V441h-1zM457,432.8h1V441h-1zM458,432.5h1V441h-1zM459,432.1h1V441h-1zM460,431.7h1V441h-1zM461,431.4h1V441h-1zM463,431.0h1V441h-1zM464,430.9h1V441h-1zM465,430.7h1V441h-1zM466,430.5h1V441h-1zM468,430.1h1V441h-1zM469,429.9h1V441h-1zM470,429.7h1V441h-1zM471,429.6h1V441h-1zM472,429.8h1V441h-1zM474,430.1h1V441h-1zM475,430.3h1V441h-1zM476,430.4h1V441h-1zM477,430.6h1V441h-1zM479,431.1h1V441h-1zM480,431.5h1V441h-1zM481,432.0h1V441h-1zM482,432.4h1V441h-1zM483,432.8h1V441h-1zM485,433.7h1V441h-1zM486,434.2h1V441h-1zM487,434.6h1V441h-1zM488,435.1h1V441h-1zM489,435.4h1V441h-1zM491,435.9h1V441h-1zM492,436.2h1V441h-1zM493,436.4h1V441h-1zM494,436.7h1V441h-1zM496,437.2h1V441h-1zM497,437.4h1V441h-1zM498,437.7h1V441h-1zM499,437.9h1V441h-1zM500,438.2h1V441h-1zM502,438.7h1V441h-1zM503,438.9h1V441h-1zM504,439.2h1V441h-1zM505,439.5h1V441h-1zM507,440.2h1V441h-1zM508,440.2h1V441h-1zM509,439.8h1V441h-1zM510,439.4h1V441h-1zM511,439.0h1V441h-1zM513,438.2h1V441h-1zM514,437.8h1V441h-1zM515,438.0h1V441h-1zM516,438.2h1V441h-1zM518,438.5h1V441h-1zM519,438.7h1V441h-1zM520,439.4h1V441h-1zM521,440.4h1V441h-1zM522,441h1V442.7h-1zM524,441h1V443.2h-1zM525,441h1V443.5h-1zM526,441h1V443.8h-1zM527,441h1V444.1h-1zM528,441h1V444.3h-1zM530,441h1V445.0h-1zM531,441h1V445.6h-1zM532,441h1V446.2h-1zM533,441h1V446.8h-1zM535,441h1V447.9h-1zM536,441h1V448.5h-1zM537,441h1V449.1h-1zM538,441h1V449.5h-1zM539,441h1V449.7h-1zM541,441h1V450.2h-1zM542,441h1V450.5h-1zM543,441h1V450.7h-1zM544,441h1V451.0h-1zM546,441h1V451.0h-1zM547,441h1V450.8h-1zM548,441h1V450.7h-1zM549,441h1V450.5h-1zM550,441h1V450.3h-1zM552,441h1V450.0h-1zM553,441h1V449.8h-1zM554,441h1V449.5h-1zM555,441h1V449.2h-1zM556,441h1V448.9h-1zM558,441h1V448.3h-1zM559,441h1V448.0h-1zM560,441h1V447.7h-1zM561,441h1V447.4h-1zM563,441h1V446.9h-1zM564,441h1V446.6h-1zM565,441h1V446.3h-1zM566,441h1V446.0h-1zM567,441h1V445.7h-1zM569,441h1V445.2h-1zM570,441h1V444.9h-1zM571,441h1V444.7h-1zM572,441h1V444.7h-1zM574,441h1V444.5h-1zM575,441h1V444.4h-1zM576,441h1V444.6h-1zM577,441h1V444.9h-1zM578,441h1V445.2h-1zM580,441h1V445.8h-1zM581,441h1V446.1h-1zM582,441h1V446.4h-1zM583,441h1V446.7h-1zM584,441h1V446.6h-1zM586,441h1V446.4h-1zM587,441h1V446.3h-1zM588,441h1V446.2h-1zM589,441h1V446.1h-1zM591,441h1V445.9h-1zM592,441h1V445.5h-1zM593,441h1V445.2h-1zM594,441h1V444.9h-1zM595,441h1V444.6h-1zM597,441h1V443.9h-1zM598,441h1V443.6h-1zM599,441h1V443.1h-1zM600,441h1V442.6h-1zM602,441h1V441.6h-1zM604,440.7h1V441h-1zM605,440.4h1V441h-1zM606,440.0h1V441h-1zM608,439.2h1V441h-1zM609,438.9h1V441h-1zM610,438.7h1V441h-1zM611,438.4h1V441h-1zM612,438.2h1V441h-1zM614,437.7h1V441h-1zM615,437.4h1V441h-1zM616,437.2h1V441h-1zM617,437.4h1V441h-1zM619,437.8h1V441h-1zM620,438.0h1V441h-1zM621,438.3h1V441h-1zM622,438.5h1V441h-1zM623,438.7h1V441h-1zM625,439.0h1V441h-1zM626,439.2h1V441h-1zM627,439.4h1V441h-1zM628,439.6h1V441h-1zM630,439.9h1V441h-1zM631,440.1h1V441h-1zM632,440.4h1V441h-1zM633,440.7h1V441h-1zM636,441h1V441.5h-1zM637,441h1V441.7h-1zM638,441h1V441.9h-1zM639,441h1V442.1h-1zM640,441h1V442.3h-1zM642,441h1V442.7h-1zM643,441h1V442.8h-1zM644,441h1V443.0h-1zM645,441h1V443.2h-1zM647,441h1V443.4h-1zM648,441h1V443.2h-1zM649,441h1V443.0h-1zM650,441h1V442.7h-1zM651,441h1V442.5h-1zM653,441h1V442.8h-1zM654,441h1V443.3h-1zM655,441h1V443.8h-1zM656,441h1V444.3h-1zM658,441h1V445.4h-1zM659,441h1V446.1h-1zM660,441h1V446.7h-1zM661,441h1V447.4h-1zM662,441h1V448.1h-1zM664,441h1V448.0h-1zM665,441h1V447.9h-1zM666,441h1V447.8h-1zM667,441h1V447.6h-1zM668,441h1V447.5h-1zM670,441h1V447.2h-1zM671,441h1V446.6h-1zM672,441h1V446.0h-1zM673,441h1V445.4h-1zM675,441h1V444.3h-1zM676,441h1V443.7h-1zM677,441h1V443.1h-1zM678,441h1V442.5h-1zM679,441h1V441.7h-1zM681,439.9h1V441h-1zM682,439.5h1V441h-1zM683,439.2h1V441h-1zM684,438.9h1V441h-1zM686,438.4h1V441h-1zM687,438.1h1V441h-1zM688,437.8h1V441h-1zM689,437.5h1V441h-1zM690,437.2h1V441h-1zM692,436.8h1V441h-1zM693,436.7h1V441h-1zM694,436.5h1V441h-1zM695,436.3h1V441h-1zM696,436.1h1V441h-1zM698,435.7h1V441h-1zM699,435.5h1V441h-1zM700,435.4h1V441h-1zM701,435.3h1V441h-1zM703,435.2h1V441h-1zM704,435.2h1V441h-1zM705,435.2h1V441h-1zM706,435.1h1V441h-1zM707,435.1h1V441h-1zM709,435.0h1V441h-1zM710,435.0h1V441h-1zM711,435.0h1V441h-1zM712,435.0h1V441h-1zM714,435.0h1V441h-1zM715,435.0h1V441h-1zM716,435.1h1V441h-1zM717,435.2h1V441h-1zM718,435.4h1V441h-1zM720,435.7h1V441h-1zM721,435.9h1V441h-1zM722,436.0h1V441h-1zM723,436.2h1V441h-1zM724,436.3h1V441h-1zM726,436.6h1V441h-1zM727,436.8h1V441h-1zM728,436.9h1V441h-1zM729,437.1h1V441h-1zM731,437.4h1V441h-1zM732,437.5h1V441h-1zM733,437.7h1V441h-1zM734,437.8h1V441h-1zM735,438.0h1V441h-1zM737,438.2h1V441h-1zM738,438.3h1V441h-1zM739,438.3h1V441h-1zM740,438.4h1V441h-1zM742,438.5h1V441h-1zM743,438.6h1V441h-1zM744,438.7h1V441h-1zM745,438.7h1V441h-1zM746,438.8h1V441h-1zM748,439.3h1V441h-1zM749,439.6h1V441h-1zM750,439.8h1V441h-1zM751,440.1h1V441h-1zM752,440.3h1V441h-1zM756,440.7h1V441h-1zM757,440.5h1V441h-1zM759,439.9h1V441h-1zM760,439.7h1V441h-1zM761,439.2h1V441h-1zM762,438.8h1V441h-1zM763,438.3h1V441h-1zM765,437.4h1V441h-1zM766,437.0h1V441h-1zM767,436.6h1V441h-1zM768,436.1h1V441h-1zM770,435.3h1V441h-1zM771,434.9h1V441h-1zM772,434.5h1V441h-1zM773,434.3h1V441h-1zM774,434.4h1V441h-1zM776,434.5h1V441h-1zM777,434.6h1V441h-1zM778,434.6h1V441h-1zM779,434.7h1V441h-1zM780,434.7h1V441h-1zM782,434.8h1V441h-1zM783,434.8h1V441h-1zM784,434.9h1V441h-1zM785,434.9h1V441h-1zM787,435.0h1V441h-1zM788,435.2h1V441h-1zM789,435.3h1V441h-1zM790,435.5h1V441h-1zM791,435.7h1V441h-1zM793,436.2h1V441h-1zM794,436.6h1V441h-1zM795,436.9h1V441h-1zM796,437.3h1V441h-1zM798,438.1h1V441h-1zM799,438.6h1V441h-1zM800,439.0h1V441h-1zM801,439.5h1V441h-1zM802,439.9h1V441h-1zM804,440.6h1V441h-1zM811,441h1V441.3h-1zM812,441h1V441.3h-1zM813,441h1V441.4h-1zM815,441h1V441.5h-1zM816,441h1V441.6h-1zM817,441h1V441.9h-1zM818,441h1V442.3h-1zM819,441h1V442.7h-1zM821,441h1V443.5h-1zM822,441h1V443.9h-1zM823,441h1V444.3h-1zM824,441h1V444.6h-1zM826,441h1V445.2h-1zM827,441h1V445.5h-1zM828,441h1V445.8h-1zM829,441h1V446.1h-1zM830,441h1V446.4h-1zM832,441h1V447.1h-1zM833,441h1V447.3h-1zM834,441h1V447.5h-1zM835,441h1V447.7h-1zM836,441h1V447.9h-1zM838,441h1V448.3h-1zM839,441h1V448.5h-1zM840,441h1V448.7h-1zM841,441h1V448.9h-1zM843,441h1V449.3h-1zM844,441h1V449.8h-1zM845,441h1V450.3h-1zM846,441h1V450.8h-1zM847,441h1V451.3h-1zM849,441h1V452.3h-1zM850,441h1V452.8h-1zM851,441h1V453.3h-1zM852,441h1V453.7h-1zM854,441h1V454.4h-1zM855,441h1V454.0h-1zM856,441h1V452.9h-1zM857,441h1V451.8h-1zM858,441h1V450.7h-1zM860,441h1V446.2h-1zM861,441h1V443.8h-1zM862,441h1V441.6h-1zM863,440.1h1V441h-1zM864,438.9h1V441h-1zM866,436.7h1V441h-1zM867,437.0h1V441h-1zM868,437.3h1V441h-1zM869,437.6h1V441h-1zM871,438.5h1V441h-1zM872,439.0h1V441h-1zM873,439.5h1V441h-1zM874,440.0h1V441h-1zM875,440.4h1V441h-1zM877,440.5h1V441h-1zM878,440.6h1V441h-1zM879,440.7h1V441h-1zM880,440.7h1V441h-1zM882,440.7h1V441h-1zM883,440.7h1V441h-1zM884,440.7h1V441h-1zM885,440.7h1V441h-1zM886,440.7h1V441h-1zM888,440.7h1V441h-1zM889,440.6h1V441h-1zM890,440.5h1V441h-1zM891,440.4h1V441h-1zM892,440.1h1V441h-1zM894,439.4h1V441h-1zM895,439.1h1V441h-1zM896,438.8h1V441h-1zM897,438.4h1V441h-1zM899,437.7h1V441h-1zM900,437.4h1V441h-1zM901,437.2h1V441h-1zM902,436.9h1V441h-1zM903,436.6h1V441h-1zM905,436.5h1V441h-1zM906,437.2h1V441h-1zM907,437.9h1V441h-1zM908,438.4h1V441h-1zM910,439.1h1V441h-1zM911,439.5h1V441h-1zM912,439.9h1V441h-1zM913,440.2h1V441h-1zM914,440.5h1V441h-1zM916,440.7h1V441h-1zM917,440.7h1V441h-1zM918,440.7h1V441h-1zM919,440.7h1V441h-1zM920,440.7h1V441h-1zM922,440.7h1V441h-1zM923,440.7h1V441h-1zM924,440.7h1V441h-1zM927,441h1V442.1h-1zM928,441h1V442.5h-1zM929,441h1V442.9h-1zM930,441h1V443.2h-1zM931,441h1V443.6h-1zM933,441h1V443.5h-1zM934,441h1V443.2h-1zM935,441h1V442.8h-1zM936,441h1V442.5h-1zM938,441h1V441.7h-1zM940,440.7h1V441h-1zM941,440.7h1V441h-1zM942,440.7h1V441h-1zM944,440.7h1V441h-1zM945,440.7h1V441h-1zM946,440.4h1V441h-1zM947,439.8h1V441h-1zM948,439.2h1V441h-1zM950,437.9h1V441h-1zM951,437.2h1V441h-1zM952,436.6h1V441h-1zM953,435.9h1V441h-1zM955,434.7h1V441h-1zM956,434.2h1V441h-1zM957,433.7h1V441h-1zM958,433.2h1V441h-1zM959,432.7h1V441h-1zM961,432.2h1V441h-1zM962,432.2h1V441h-1zM963,432.2h1V441h-1zM964,432.2h1V441h-1zM966,433.9h1V441h-1zM967,434.8h1V441h-1zM968,435.7h1V441h-1zM969,436.7h1V441h-1zM970,437.7h1V441h-1zM972,439.7h1V441h-1zM974,441h1V441.6h-1zM975,441h1V442.1h-1zM976,441h1V442.4h-1zM978,441h1V442.9h-1zM979,441h1V443.2h-1zM980,441h1V443.7h-1zM981,441h1V444.3h-1zM983,441h1V445.7h-1zM984,441h1V446.4h-1zM985,441h1V447.0h-1zM986,441h1V447.5h-1zM987,441h1V447.7h-1zM989,441h1V448.2h-1zM990,441h1V448.5h-1zM991,441h1V448.7h-1zM992,441h1V448.8h-1z" fill="#808080"/>
<path d="M512,438.6h1V441h-1zM517,438.4h1V441h-1zM8,437.2h1V441h-1zM523,441h1V443.0h-1zM14,437.2h1V441h-1zM529,441h1V444.6h-1zM534,441h1V447.3h-1zM25,441h1V441.8h-1zM540,441h1V450.0h-1zM30,441h1V443.2h-1zM545,441h1V451.2h-1zM36,441h1V444.2h-1zM551,441h1V450.2h-1zM41,441h1V444.7h-1zM557,441h1V448.6h-1zM47,441h1V445.3h-1zM562,441h1V447.1h-1zM53,441h1V446.3h-1zM568,441h1V445.4h-1zM58,441h1V445.7h-1zM573,441h1V444.6h-1zM64,441h1V445.3h-1zM579,441h1V445.5h-1zM69,441h1V445.4h-1zM585,441h1V446.5h-1zM75,441h1V446.9h-1zM590,441h1V446.1h-1zM81,441h1V448.1h-1zM596,441h1V444.2h-1zM86,441h1V448.9h-1zM601,441h1V442.1h-1zM92,441h1V449.2h-1zM607,439.6h1V441h-1zM97,441h1V448.4h-1zM613,437.9h1V441h-1zM103,441h1V445.1h-1zM618,437.6h1V441h-1zM109,441h1V446.7h-1zM624,438.9h1V441h-1zM114,441h1V449.3h-1zM629,439.7h1V441h-1zM120,441h1V450.5h-1zM635,441h1V441.3h-1zM125,441h1V447.8h-1zM641,441h1V442.5h-1zM646,441h1V443.4h-1zM137,437.2h1V441h-1zM652,441h1V442.3h-1zM142,435.4h1V441h-1zM657,441h1V444.8h-1zM148,433.2h1V441h-1zM663,441h1V448.1h-1zM154,429.1h1V441h-1zM669,441h1V447.4h-1zM159,427.6h1V441h-1zM674,441h1V444.9h-1zM165,426.1h1V441h-1zM170,426.1h1V441h-1zM685,438.6h1V441h-1zM176,427.0h1V441h-1zM691,437.0h1V441h-1zM182,428.7h1V441h-1zM697,435.9h1V441h-1zM187,431.6h1V441h-1zM702,435.2h1V441h-1zM193,434.6h1V441h-1zM708,435.1h1V441h-1zM198,437.1h1V441h-1zM713,435.0h1V441h-1zM204,440.1h1V441h-1zM719,435.5h1V441h-1zM210,441h1V444.4h-1zM725,436.5h1V441h-1zM215,441h1V445.0h-1zM730,437.2h1V441h-1zM221,441h1V445.5h-1zM736,438.1h1V441h-1zM226,441h1V445.8h-1zM741,438.5h1V441h-1zM232,441h1V445.9h-1zM747,439.1h1V441h-1zM238,441h1V445.6h-1zM753,440.6h1V441h-1zM243,441h1V444.7h-1zM758,440.2h1V441h-1zM249,441h1V444.8h-1zM764,437.9h1V441h-1zM254,441h1V446.4h-1zM769,435.7h1V441h-1zM260,441h1V443.9h-1zM775,434.4h1V441h-1zM266,441h1V441.4h-1zM781,434.8h1V441h-1zM271,441h1V441.4h-1zM786,435.0h1V441h-1zM277,441h1V441.4h-1zM792,435.9h1V441h-1zM282,441h1V441.4h-1zM797,437.7h1V441h-1zM288,441h1V441.4h-1zM803,440.3h1V441h-1zM294,441h1V441.4h-1zM299,441h1V441.4h-1zM814,441h1V441.5h-1zM305,441h1V443.0h-1zM820,441h1V443.1h-1zM310,441h1V444.3h-1zM825,441h1V444.9h-1zM316,441h1V442.9h-1zM831,441h1V446.7h-1zM837,441h1V448.1h-1zM327,440.7h1V441h-1zM842,441h1V449.1h-1zM333,440.2h1V441h-1zM848,441h1V451.8h-1zM338,439.1h1V441h-1zM853,441h1V454.0h-1zM344,437.4h1V441h-1zM859,441h1V448.6h-1zM350,435.6h1V441h-1zM865,437.6h1V441h-1zM355,435.6h1V441h-1zM870,438.0h1V441h-1zM361,436.9h1V441h-1zM876,440.5h1V441h-1zM366,438.8h1V441h-1zM881,440.7h1V441h-1zM372,440.0h1V441h-1zM887,440.7h1V441h-1zM378,441h1V443.2h-1zM893,439.8h1V441h-1zM383,441h1V444.6h-1zM898,438.1h1V441h-1zM389,441h1V445.3h-1zM904,436.3h1V441h-1zM394,441h1V445.6h-1zM909,438.8h1V441h-1zM400,441h1V445.9h-1zM915,440.7h1V441h-1zM406,441h1V446.7h-1zM921,440.7h1V441h-1zM411,441h1V447.8h-1zM926,441h1V441.5h-1zM417,441h1V447.7h-1zM932,441h1V443.8h-1zM422,441h1V445.6h-1zM937,441h1V442.2h-1zM428,441h1V443.6h-1zM943,440.7h1V441h-1zM434,441h1V442.3h-1zM949,438.5h1V441h-1zM439,441h1V441.6h-1zM954,435.2h1V441h-1zM445,438.9h1V441h-1zM960,432.2h1V441h-1zM450,435.6h1V441h-1zM965,433.1h1V441h-1zM456,433.2h1V441h-1zM971,438.7h1V441h-1zM462,431.2h1V441h-1zM977,441h1V442.7h-1zM467,430.3h1V441h-1zM982,441h1V445.0h-1zM473,430.0h1V441h-1zM988,441h1V448.0h-1zM478,430.7h1V441h-1zM484,433.3h1V441h-1zM490,435.7h1V441h-1zM495,436.9h1V441h-1zM501,438.4h1V441h-1zM506,439.9h1V441h-1z" fill="#808080" fill-opacity="0.25"/>
<line x1="0" y1="379.5" x2="1024" y2="379.5" stroke="#505050" stroke-width="1"/>
<line x1="0" y1="495.3" x2="1002" y2="495.3" stroke="#7a7a7a" stroke-width="1.5"/>
<line x1="0" y1="490.5" x2="4" y2="490.5" stroke="#e0e0e0" stroke-width="1"/>
<line x1="993" y1="490.5" x2="1001" y2="490.5" stroke="#e0e0e0" stroke-width="1"/>
<line x1="1001.5" y1="0" x2="1001.5" y2="495.5" stroke="#505050" stroke-width="1"/>
<line x1="1002" y1="10.5" x2="1005" y2="10.5" stroke="#505050" stroke-width="1"/>
<text x="1006" y="12.8" font-family="Liberation Sans, sans-serif" font-size="6" fill="#222">5940</text>
<line x1="1002" y1="38.5" x2="1005" y2="38.5" stroke="#505050" stroke-width="1"/>
<text x="1006" y="40.9" font-family="Liberation Sans, sans-serif" font-size="6" fill="#222">5920</text>
<line x1="1002" y1="66.5" x2="1005" y2="66.5" stroke="#505050" stroke-width="1"/>
<text x="1006" y="69.0" font-family="Liberation Sans, sans-serif" font-size="6" fill="#222">5900</text>
<line x1="1002" y1="94.5" x2="1005" y2="94.5" stroke="#505050" stroke-width="1"/>
<text x="1006" y="97.1" font-family="Liberation Sans, sans-serif" font-size="6" fill="#222">5880</text>
<line x1="1002" y1="123.5" x2="1005" y2="123.5" stroke="#505050" stroke-width="1"/>
<text x="1006" y="125.2" font-family="Liberation Sans, sans-serif" font-size="6" fill="#222">5860</text>
<line x1="1002" y1="151.5" x2="1005" y2="151.5" stroke="#505050" stroke-width="1"/>
<text x="1006" y="153.3" font-family="Liberation Sans, sans-serif" font-size="6" fill="#222">5840</text>
<line x1="1002" y1="179.5" x2="1005" y2="179.5" stroke="#505050" stroke-width="1"/>
<text x="1006" y="181.4" font-family="Liberation Sans, sans-serif" font-size="6" fill="#222">5820</text>
<line x1="1002" y1="207.5" x2="1005" y2="207.5" stroke="#505050" stroke-width="1"/>
<text x="1006" y="209.5" font-family="Liberation Sans, sans-serif" font-size="6" fill="#222">5800</text>
<line x1="1002" y1="235.5" x2="1005" y2="235.5" stroke="#505050" stroke-width="1"/>
<text x="1006" y="237.6" font-family="Liberation Sans, sans-serif" font-size="6" fill="#222">5780</text>
<line x1="1002" y1="263.5" x2="1005" y2="263.5" stroke="#505050" stroke-width="1"/>
<text x="1006" y="265.7" font-family="Liberation Sans, sans-serif" font-size="6" fill="#222">5760</text>
<line x1="1002" y1="291.5" x2="1005" y2="291.5" stroke="#505050" stroke-width="1"/>
<text x="1006" y="293.8" font-family="Liberation Sans, sans-serif" font-size="6" fill="#222">5740</text>
<line x1="1002" y1="319.5" x2="1005" y2="319.5" stroke="#505050" stroke-width="1"/>
<text x="1006" y="321.9" font-family="Liberation Sans, sans-serif" font-size="6" fill="#222">5720</text>
<line x1="1002" y1="347.5" x2="1005" y2="347.5" stroke="#505050" stroke-width="1"/>
<text x="1006" y="350.0" font-family="Liberation Sans, sans-serif" font-size="6" fill="#222">5700</text>
<line x1="1002" y1="375.5" x2="1005" y2="375.5" stroke="#505050" stroke-width="1"/>
<line x1="1002" y1="391.5" x2="1005" y2="391.5" stroke="#505050" stroke-width="1"/>
<text x="1006" y="394.0" font-family="Liberation Sans, sans-serif" font-size="6" fill="#222">40</text>
<line x1="1002" y1="404.5" x2="1005" y2="404.5" stroke="#505050" stroke-width="1"/>
<text x="1006" y="406.3" font-family="Liberation Sans, sans-serif" font-size="6" fill="#222">30</text>
<line x1="1002" y1="416.5" x2="1005" y2="416.5" stroke="#505050" stroke-width="1"/>
<text x="1006" y="418.5" font-family="Liberation Sans, sans-serif" font-size="6" fill="#222">20</text>
<line x1="1002" y1="428.5" x2="1005" y2="428.5" stroke="#505050" stroke-width="1"/>
<text x="1006" y="430.8" font-family="Liberation Sans, sans-serif" font-size="6" fill="#222">10</text>
<line x1="1002" y1="440.5" x2="1005" y2="440.5" stroke="#505050" stroke-width="1"/>
<text x="1006" y="443.1" font-family="Liberation Sans, sans-serif" font-size="6" fill="#222">0</text>
<line x1="1002" y1="453.5" x2="1005" y2="453.5" stroke="#505050" stroke-width="1"/>
<text x="1006" y="455.4" font-family="Liberation Sans, sans-serif" font-size="6" fill="#222">-10</text>
<line x1="1002" y1="465.5" x2="1005" y2="465.5" stroke="#505050" stroke-width="1"/>
<text x="1006" y="467.6" font-family="Liberation Sans, sans-serif" font-size="6" fill="#222">-20</text>
<line x1="1002" y1="477.5" x2="1005" y2="477.5" stroke="#505050" stroke-width="1"/>
<text x="1006" y="479.9" font-family="Liberation Sans, sans-serif" font-size="6" fill="#222">-30</text>
<line x1="1002" y1="490.5" x2="1005" y2="490.5" stroke="#505050" stroke-width="1"/>
<text x="1006" y="492.2" font-family="Liberation Sans, sans-serif" font-size="6" fill="#222">-40</text>
<path d="M998.5,39.2 L1003,34.9 L1023.5,34.9 L1023.5,43.5 L1003,43.5 Z" fill="#DAA520" stroke="#8a6a20" stroke-width="0.8"/>
<text x="1006.5" y="41.4" font-family="Liberation Sans, sans-serif" font-size="6.2" fill="#222">5919</text>
<path d="M998.5,60.5 L1003,56.4 L1023.5,56.4 L1023.5,64.6 L1003,64.6 Z" fill="#1E90FF" stroke="#1060a0" stroke-width="0.8"/>
<text x="1006.5" y="62.7" font-family="Liberation Sans, sans-serif" font-size="6.2" fill="#fff">5904</text>
<path d="M998.5,54.8 L1003,50.5 L1023.5,50.5 L1023.5,59.1 L1003,59.1 Z" fill="#000000" stroke="#000" stroke-width="0.8"/>
<text x="1006.5" y="57.0" font-family="Liberation Sans, sans-serif" font-size="6.2" fill="#fff">5908</text>
<path d="M998.5,402.6 L1003,398.4 L1023.5,398.4 L1023.5,406.8 L1003,406.8 Z" fill="#FFA500" stroke="#906000" stroke-width="0.8"/>
<text x="1006.5" y="404.8" font-family="Liberation Sans, sans-serif" font-size="6.2" fill="#222">31</text>
<path d="M998.5,411.5 L1003,407.6 L1023.5,407.6 L1023.5,415.4 L1003,415.4 Z" fill="#1E90FF" stroke="#1060a0" stroke-width="0.8"/>
<text x="1006.5" y="413.7" font-family="Liberation Sans, sans-serif" font-size="6.2" fill="#fff">25</text>
<path d="M998.5,448.9 L1003,444.9 L1023.5,444.9 L1023.5,453.0 L1003,453.0 Z" fill="#707070" stroke="#404040" stroke-width="0.8"/>
<text x="1006.5" y="451.1" font-family="Liberation Sans, sans-serif" font-size="6.2" fill="#222">-7</text>
<line x1="50.5" y1="496" x2="50.5" y2="499" stroke="#404040" stroke-width="1"/>
<text x="41.7" y="507.8" font-family="Liberation Sans, sans-serif" font-size="5.8" fill="#222" textLength="18.2" lengthAdjust="spacingAndGlyphs">12. Dez</text>
<line x1="150.5" y1="496" x2="150.5" y2="499" stroke="#404040" stroke-width="1"/>
<text x="141.7" y="507.8" font-family="Liberation Sans, sans-serif" font-size="5.8" fill="#222" textLength="18.2" lengthAdjust="spacingAndGlyphs">15. Dez</text>
<line x1="249.5" y1="496" x2="249.5" y2="499" stroke="#404040" stroke-width="1"/>
<text x="240.7" y="507.8" font-family="Liberation Sans, sans-serif" font-size="5.8" fill="#222" textLength="18.2" lengthAdjust="spacingAndGlyphs">16. Dez</text>
<line x1="349.5" y1="496" x2="349.5" y2="499" stroke="#404040" stroke-width="1"/>
<text x="340.7" y="507.8" font-family="Liberation Sans, sans-serif" font-size="5.8" fill="#222" textLength="18.2" lengthAdjust="spacingAndGlyphs">17. Dez</text>
<line x1="449.5" y1="496" x2="449.5" y2="499" stroke="#404040" stroke-width="1"/>
<text x="440.7" y="507.8" font-family="Liberation Sans, sans-serif" font-size="5.8" fill="#222" textLength="18.2" lengthAdjust="spacingAndGlyphs">18. Dez</text>
<line x1="549.5" y1="496" x2="549.5" y2="499" stroke="#404040" stroke-width="1"/>
<text x="540.7" y="507.8" font-family="Liberation Sans, sans-serif" font-size="5.8" fill="#222" textLength="18.2" lengthAdjust="spacingAndGlyphs">19. Dez</text>
<line x1="649.5" y1="496" x2="649.5" y2="499" stroke="#404040" stroke-width="1"/>
<text x="640.7" y="507.8" font-family="Liberation Sans, sans-serif" font-size="5.8" fill="#222" textLength="18.2" lengthAdjust="spacingAndGlyphs">29. Dez</text>
<line x1="749.5" y1="496" x2="749.5" y2="499" stroke="#404040" stroke-width="1"/>
<text x="740.7" y="507.8" font-family="Liberation Sans, sans-serif" font-size="5.8" fill="#222" textLength="18.2" lengthAdjust="spacingAndGlyphs">30. Dez</text>
<line x1="849.5" y1="496" x2="849.5" y2="499" stroke="#404040" stroke-width="1"/>
<text x="842.8" y="507.8" font-family="Liberation Sans, sans-serif" font-size="5.8" fill="#222" textLength="14.1" lengthAdjust="spacingAndGlyphs">2. Jan</text>
<line x1="949.5" y1="496" x2="949.5" y2="499" stroke="#404040" stroke-width="1"/>
<text x="942.8" y="507.8" font-family="Liberation Sans, sans-serif" font-size="5.8" fill="#222" textLength="14.1" lengthAdjust="spacingAndGlyphs">5. Jan</text>
<text x="3.3" y="9.3" font-family="Liberation Sans, sans-serif" font-size="6.9" fill="#222" textLength="177.5" lengthAdjust="spacingAndGlyphs">TEMA(FESX MAR26 (15 Minute),56), TEMA(FESX MAR26 (15 Minute),14)</text>
<rect x="2.1" y="12.7" width="52.6" height="13.5" rx="2" fill="#FBE0A8"/>
<text x="7.8" y="22.4" font-family="Liberation Sans, sans-serif" font-size="8.4" fill="#EBB04E" textLength="29.1" lengthAdjust="spacingAndGlyphs">Delayed</text>
<circle cx="47.6" cy="19.5" r="4.3" fill="#F0AE3C"/>
<path d="M47.6,17 V19.7 L49,21" stroke="#FBE0A8" stroke-width="0.8" fill="none"/>
<text x="3.2" y="389.7" font-family="Liberation Sans, sans-serif" font-size="7" fill="#222" textLength="113" lengthAdjust="spacingAndGlyphs">TEMACDTrendFilter(FESX MAR26 (15 Minute))</text>
<text x="3.1" y="489.9" font-family="Liberation Sans, sans-serif" font-size="6.5" fill="#222" textLength="60.2" lengthAdjust="spacingAndGlyphs">© 2026 NinjaTrader, LLC</text>
<text x="2" y="518.8" font-family="Liberation Sans, sans-serif" font-size="5" font-weight="bold" fill="#333" textLength="26.9" lengthAdjust="spacingAndGlyphs">FESX MAR26</text>
<text x="963" y="519.5" font-family="Liberation Sans, sans-serif" font-size="8.2" font-weight="bold" fill="#E8472A" textLength="60" lengthAdjust="spacingAndGlyphs">NINJATRADER</text>
</svg>
</body></html>
